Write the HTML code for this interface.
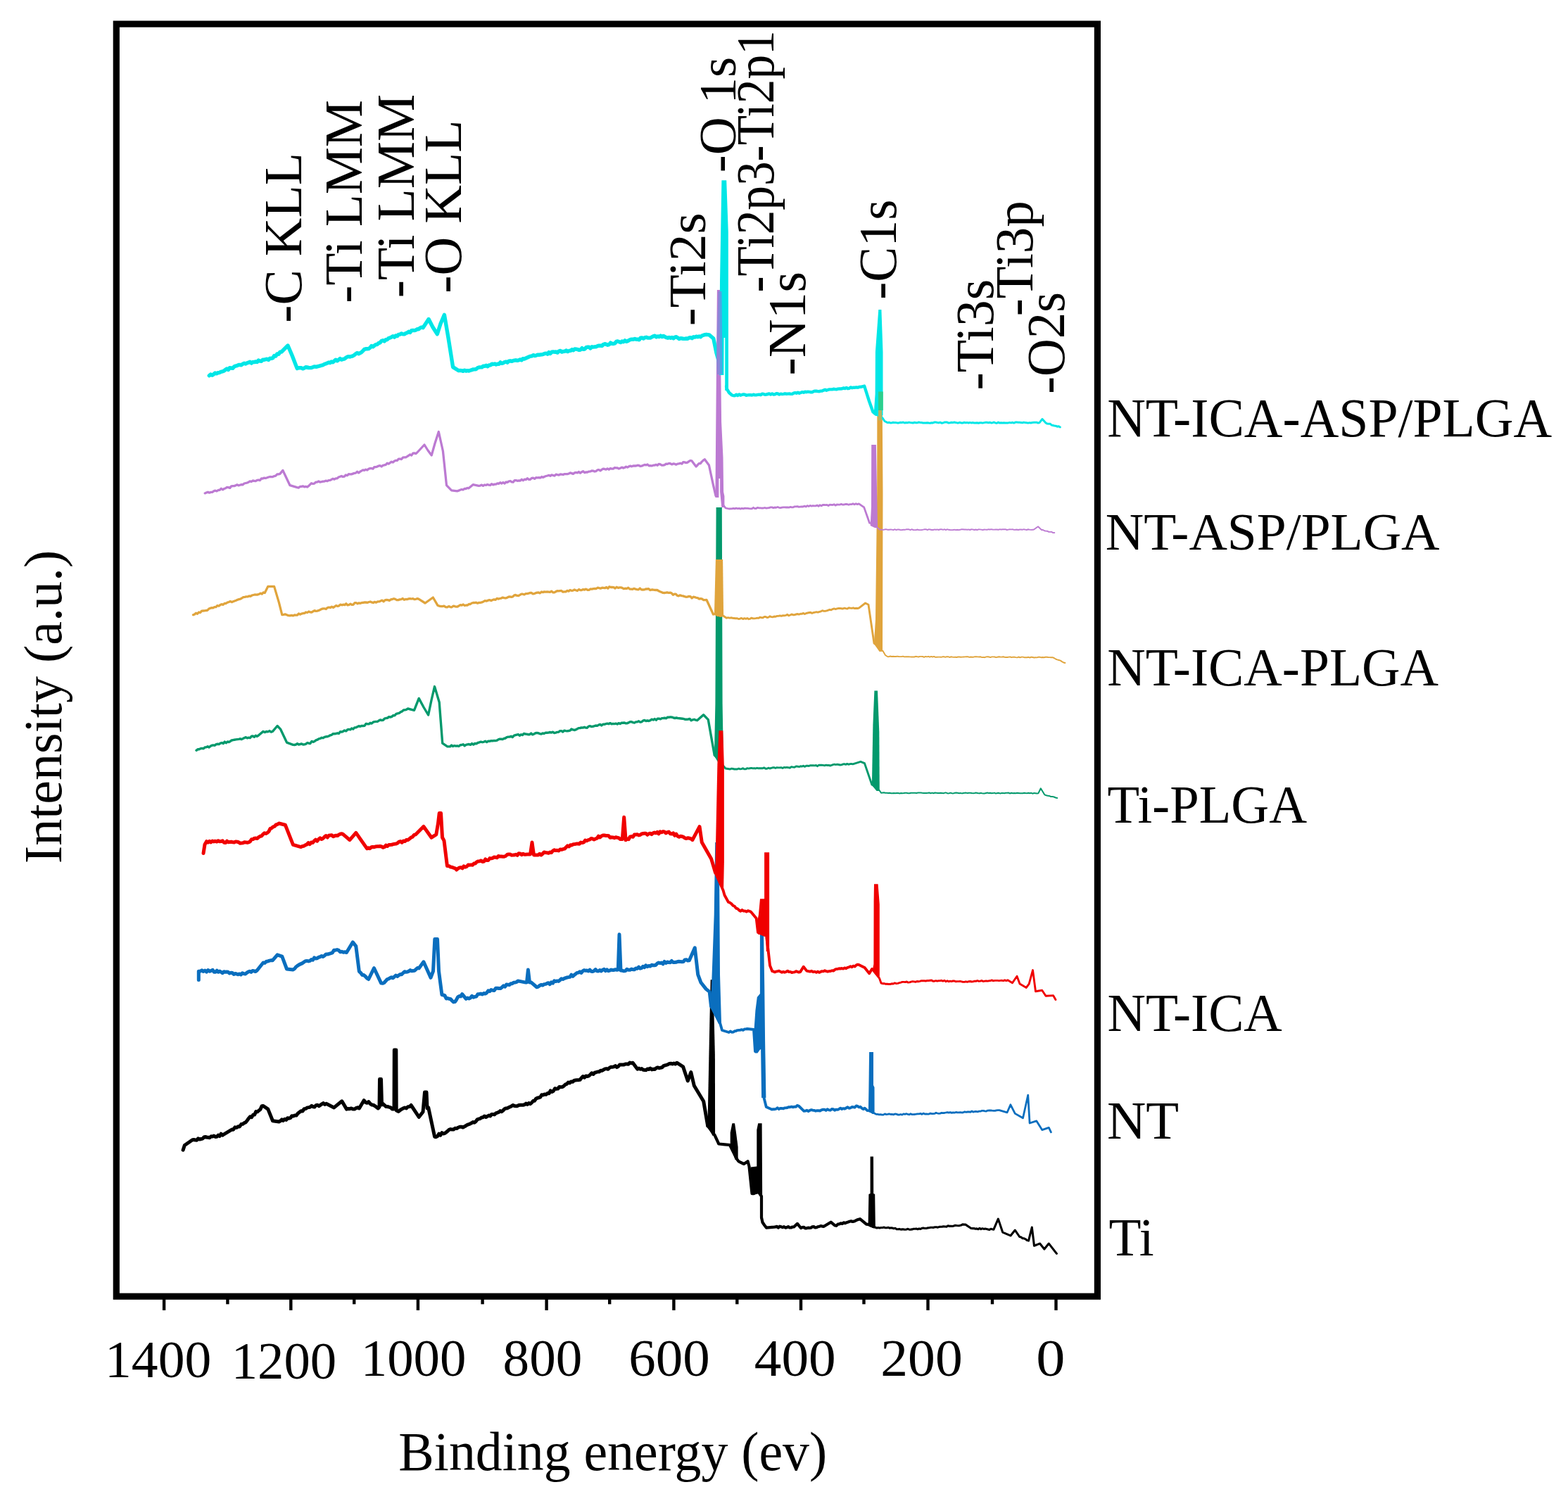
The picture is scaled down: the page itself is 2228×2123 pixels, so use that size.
<!DOCTYPE html>
<html><head><meta charset="utf-8"><title>XPS survey spectra</title>
<style>
html,body{margin:0;padding:0;background:#fff;width:2228px;height:2123px;overflow:hidden;}
svg{display:block;}
text{font-family:"Liberation Serif","Times New Roman",serif;fill:#000;}
</style></head><body>
<svg width="2228" height="2123" viewBox="0 0 2228 2123">
<rect width="2228" height="2123" fill="#fff"/>
<g id="curves">
<g><path d="M260.1,1634.2 L262.3,1627.5 L273.5,1619.7 L275.5,1619.5 L277.6,1620.1 L279.6,1620.2 L281.6,1617.8 L283.7,1619.0 L285.7,1618.5 L287.8,1618.1 L289.8,1616.0 L291.8,1615.4 L293.9,1616.2 L295.9,1616.3 L297.9,1616.7 L300.0,1614.7 L302.0,1615.1 L304.0,1614.1 L306.0,1615.4 L308.1,1615.3 L310.1,1613.1 L312.1,1614.6 L314.1,1611.2 L316.2,1613.2 L318.2,1611.8 L329.4,1605.1 L331.6,1605.2 L333.9,1601.8 L336.1,1602.4 L338.3,1600.8 L340.5,1601.0 L342.8,1597.5 L345.0,1597.3 L347.1,1595.6 L349.2,1594.8 L351.2,1592.2 L353.3,1589.3 L355.4,1586.7 L357.5,1587.7 L359.6,1584.3 L361.6,1584.1 L363.7,1579.6 L365.8,1579.9 L367.9,1578.0 L369.9,1576.5 L372.0,1571.8 L374.1,1571.5 L380.8,1576.1 L387.5,1592.8 L396.4,1594.0 L398.4,1592.8 L400.5,1590.9 L402.5,1592.4 L404.5,1590.3 L406.6,1591.4 L408.6,1588.7 L410.7,1589.2 L412.7,1588.6 L414.7,1585.8 L416.8,1586.0 L418.8,1585.0 L421.0,1585.1 L423.2,1582.3 L425.5,1580.4 L427.7,1578.7 L429.9,1579.0 L432.2,1575.7 L434.4,1575.6 L436.6,1573.9 L438.7,1573.6 L440.7,1573.2 L442.8,1571.4 L444.9,1572.7 L446.9,1573.1 L449.0,1570.7 L451.1,1570.3 L453.2,1571.8 L455.2,1570.3 L457.3,1568.9 L459.4,1567.6 L461.4,1569.5 L463.5,1568.3 L474.6,1573.9 L485.8,1564.8 L492.5,1576.1 L494.7,1575.5 L497.0,1575.7 L499.2,1575.0 L501.4,1576.0 L503.7,1576.1 L505.9,1574.7 L508.2,1573.8 L510.4,1575.0 L517.1,1563.7 L519.3,1566.4 L521.6,1567.3 L523.8,1565.6 L526.0,1568.4 L528.2,1569.9 L530.5,1570.2 L532.7,1571.6 L537.2,1575.0 L539.0,1573.0 L539.5,1533.5 L541.5,1533.5 L542.5,1570.0 L543.9,1568.3 L546.1,1570.3 L548.4,1572.4 L550.6,1572.5 L552.8,1573.2 L555.1,1573.8 L557.3,1576.1 L560.0,1576.0 L560.3,1492.0 L562.8,1492.0 L563.2,1578.0 L566.3,1579.4 L568.5,1577.5 L570.8,1576.1 L573.0,1574.8 L575.2,1574.0 L577.4,1574.9 L579.6,1572.8 L581.9,1572.6 L584.1,1570.5 L595.3,1587.3 L601.0,1580.0 L603.5,1552.0 L606.0,1552.0 L607.0,1575.0 L608.7,1573.9 L617.6,1615.2 L619.6,1615.7 L621.7,1614.5 L623.8,1611.2 L625.8,1613.2 L627.9,1609.7 L629.9,1611.0 L632.0,1610.4 L634.0,1609.0 L636.1,1607.3 L638.1,1605.4 L640.2,1604.6 L642.2,1605.1 L644.4,1605.0 L646.7,1603.2 L648.9,1603.6 L651.1,1602.2 L653.3,1601.3 L655.5,1601.2 L657.8,1602.1 L660.0,1600.8 L662.0,1599.7 L664.1,1598.4 L666.1,1597.7 L668.1,1596.9 L670.1,1595.8 L672.2,1594.5 L674.2,1595.2 L676.2,1593.5 L678.2,1590.8 L680.3,1590.0 L682.3,1589.6 L684.3,1587.9 L686.4,1587.7 L688.4,1586.0 L690.4,1587.5 L692.5,1586.3 L694.5,1585.1 L696.6,1585.9 L698.6,1583.4 L700.6,1583.5 L702.7,1583.9 L704.7,1581.8 L706.7,1581.1 L708.8,1580.3 L710.8,1578.6 L712.8,1579.7 L714.8,1578.0 L716.9,1575.7 L718.9,1574.9 L720.9,1574.7 L722.9,1573.6 L725.0,1572.7 L727.0,1571.7 L729.0,1570.5 L731.1,1571.5 L733.1,1571.8 L735.1,1571.7 L737.2,1570.5 L739.2,1570.3 L741.3,1570.3 L743.3,1570.2 L745.3,1569.8 L747.4,1568.1 L749.4,1569.5 L751.4,1567.5 L753.5,1568.6 L755.5,1566.9 L757.5,1564.5 L759.5,1564.2 L761.6,1561.3 L763.6,1560.2 L765.6,1559.8 L767.6,1559.2 L769.7,1555.8 L771.7,1556.1 L773.8,1555.0 L775.9,1555.4 L778.0,1553.5 L780.1,1553.8 L782.2,1549.9 L784.3,1551.5 L786.4,1550.3 L788.5,1546.7 L790.6,1547.4 L792.7,1547.1 L794.8,1544.4 L796.9,1544.8 L799.0,1544.5 L801.1,1543.3 L803.2,1541.2 L805.3,1540.4 L807.4,1538.1 L809.5,1538.9 L811.6,1536.9 L813.7,1537.2 L815.8,1535.5 L817.9,1534.9 L820.0,1534.7 L822.0,1534.7 L824.1,1534.4 L826.2,1531.7 L828.3,1529.6 L830.4,1531.2 L832.5,1529.0 L834.6,1529.5 L836.7,1528.9 L838.8,1527.0 L840.9,1524.8 L843.0,1526.4 L845.1,1524.2 L847.2,1523.7 L849.3,1523.0 L851.4,1523.0 L853.5,1521.3 L855.5,1521.4 L857.6,1520.1 L859.7,1518.9 L861.8,1518.6 L863.9,1519.3 L866.0,1517.4 L868.1,1516.3 L870.2,1516.2 L872.3,1515.9 L874.4,1514.5 L876.4,1516.6 L878.5,1515.5 L880.5,1513.0 L882.6,1513.0 L884.7,1513.1 L886.7,1512.9 L888.8,1512.0 L890.9,1512.0 L892.9,1512.3 L895.0,1510.0 L897.0,1510.8 L899.1,1510.2 L905.8,1519.2 L907.8,1518.1 L909.9,1519.3 L911.9,1518.6 L913.9,1520.2 L916.0,1520.4 L918.0,1520.7 L920.1,1518.9 L922.1,1519.6 L924.1,1518.1 L926.2,1519.9 L928.2,1519.2 L930.3,1519.5 L932.4,1517.8 L934.5,1516.9 L936.6,1517.8 L938.7,1517.2 L940.8,1516.8 L942.9,1514.6 L945.0,1513.9 L947.0,1513.3 L949.1,1512.6 L951.2,1511.4 L953.3,1511.2 L955.4,1511.9 L957.5,1511.1 L959.6,1512.0 L961.7,1510.2 L970.6,1515.9 L977.3,1536.0 L981.8,1523.6 L986.3,1542.7 L999.7,1565.0 L1005.7,1600.0" stroke="#000000" stroke-width="5.0" fill="none" stroke-linejoin="round" stroke-linecap="round"/><path d="M1005.7,1600.0 L1015.5,1613.0 L1021.3,1625.5 L1030.0,1626.3 L1037.0,1627.0 L1047.0,1647.0 L1049.5,1650.3 L1057.0,1654.0 L1062.6,1650.3 L1064.5,1657.5 L1068.5,1696.0 L1078.0,1694.0 L1082.0,1700.0 L1082.0,1730.0 L1083.5,1737.0 L1086.2,1741.0 L1088.9,1744.6 L1100.0,1743.7 L1102.0,1743.4 L1104.0,1742.9 L1106.0,1744.6 L1108.0,1742.7 L1110.0,1743.3 L1112.0,1744.2 L1114.0,1743.2 L1116.0,1744.6 L1118.0,1744.1 L1120.0,1743.1 L1122.0,1744.4 L1124.0,1744.5 L1126.0,1743.5 L1128.0,1743.5 L1133.0,1738.9 L1137.9,1745.0 L1139.9,1744.1 L1142.0,1743.8 L1144.0,1745.3 L1146.1,1745.3 L1148.1,1744.7 L1150.2,1744.8 L1152.2,1744.7 L1154.2,1743.3 L1156.3,1743.1 L1158.3,1744.4 L1160.4,1744.2 L1162.4,1743.2 L1164.5,1742.7 L1166.5,1742.1 L1168.6,1742.7 L1170.6,1742.8 L1180.6,1736.7 L1186.3,1741.4 L1188.4,1741.8 L1190.5,1739.7 L1192.6,1739.4 L1194.6,1738.3 L1196.7,1739.0 L1198.8,1737.3 L1200.9,1738.2 L1203.0,1737.2 L1205.1,1736.5 L1207.2,1735.7 L1209.3,1735.2 L1211.3,1736.0 L1213.4,1735.6 L1215.5,1734.7 L1217.6,1733.6 L1222.0,1732.2 L1231.0,1739.7 L1233.1,1739.8 L1235.2,1740.5 L1237.2,1741.5" stroke="#000000" stroke-width="4.2" fill="none" stroke-linejoin="round" stroke-linecap="round"/><path d="M1237.2,1741.5 L1239.3,1743.1 L1241.4,1743.9 L1243.5,1744.0 L1245.9,1745.0 L1247.9,1744.5 L1249.9,1745.0 L1251.9,1744.5 L1254.0,1744.5 L1256.0,1744.1 L1258.0,1744.7 L1260.0,1744.7 L1262.0,1744.2 L1264.0,1745.2 L1266.0,1744.8 L1268.0,1745.1 L1270.0,1745.7 L1272.0,1745.3 L1274.0,1746.7 L1276.0,1746.8 L1278.0,1746.4 L1280.0,1747.1 L1282.0,1746.9 L1284.0,1746.9 L1286.0,1747.3 L1288.0,1747.0 L1290.0,1746.3 L1292.0,1747.2 L1294.0,1747.1 L1296.0,1746.9 L1298.0,1746.3 L1300.0,1746.2 L1302.0,1746.0 L1304.0,1746.7 L1306.0,1745.9 L1308.0,1746.5 L1310.0,1745.3 L1312.0,1745.0 L1314.0,1745.5 L1316.0,1745.5 L1318.1,1744.9 L1320.1,1744.7 L1322.2,1744.2 L1324.3,1744.2 L1326.4,1744.4 L1328.4,1743.7 L1330.5,1743.8 L1332.6,1744.1 L1334.6,1743.4 L1336.7,1743.2 L1338.8,1743.1 L1340.8,1742.8 L1342.9,1743.0 L1345.0,1743.1 L1347.1,1741.8 L1349.1,1742.4 L1351.2,1742.2 L1353.3,1742.5 L1355.3,1742.0 L1357.4,1741.2 L1359.5,1741.5 L1361.5,1741.7 L1363.6,1741.6 L1365.7,1741.1 L1367.8,1739.9 L1369.8,1740.1 L1371.9,1740.1 L1379.9,1745.5 L1381.9,1745.6 L1383.9,1745.5 L1385.9,1746.2 L1387.9,1745.9 L1389.9,1746.7 L1391.9,1745.4 L1393.9,1746.6 L1395.9,1745.7 L1397.9,1746.4 L1399.9,1746.0 L1401.9,1746.4 L1403.9,1746.9 L1405.9,1747.5 L1407.9,1746.2 L1409.9,1746.8 L1411.9,1747.1 L1418.3,1732.1 L1424.7,1751.1 L1435.9,1755.9 L1442.3,1748.1 L1448.7,1757.5 L1450.8,1757.9 L1453.0,1759.7 L1455.1,1759.8 L1457.2,1760.8 L1459.4,1762.6 L1461.5,1763.1 L1466.3,1744.1 L1469.5,1770.3 L1477.5,1767.1 L1483.9,1775.0 L1490.3,1767.1 L1501.4,1781.4" stroke="#000000" stroke-width="3.1" fill="none" stroke-linejoin="round" stroke-linecap="round"/><polygon points="1005.4,1601.0 1008.4,1450.0 1009.7,1392.2 1013.4,1392.2 1015.9,1500.0 1016.1,1614.0 1012.6,1614.0" fill="#000000"/><polygon points="1037.7,1628.0 1037.7,1609.5 1040.4,1596.3 1044.0,1596.3 1045.9,1609.0 1048.6,1629.4 1048.6,1648.0 1044.6,1648.0" fill="#000000"/><polygon points="1066.7,1675.7 1066.7,1658.4 1075.3,1657.5 1075.3,1605.4 1077.2,1596.3 1082.6,1596.3 1083.1,1690.0 1083.1,1731.9 1080.4,1731.9 1080.4,1694.0 1071.4,1698.3 1068.4,1698.3" fill="#000000"/><polygon points="1233.6,1740.0 1234.4,1697.0 1236.6,1696.0 1236.6,1643.4 1241.0,1643.4 1241.2,1696.0 1243.2,1697.0 1243.9,1745.0 1240.1,1745.0" fill="#000000"/></g>
<g><path d="M282.3,1392.6 L282.3,1380.2 L284.5,1380.2 L286.8,1378.8 L289.0,1380.5 L291.2,1379.1 L293.5,1381.0 L295.7,1378.5 L298.0,1380.2 L300.2,1379.2 L302.2,1378.4 L304.2,1381.3 L306.2,1381.3 L308.2,1379.1 L310.2,1381.2 L312.2,1380.1 L314.2,1381.3 L316.2,1382.7 L318.2,1380.7 L320.2,1381.2 L322.2,1381.1 L324.2,1381.3 L326.2,1383.0 L328.2,1382.2 L330.2,1382.4 L332.2,1384.5 L334.2,1383.5 L336.2,1384.0 L338.2,1384.8 L340.3,1383.9 L342.3,1385.0 L344.4,1382.8 L346.4,1383.6 L348.5,1384.0 L350.6,1382.4 L352.6,1381.1 L354.7,1380.2 L356.8,1381.4 L358.8,1379.5 L360.9,1379.7 L362.9,1380.6 L365.0,1379.2 L374.0,1368.0 L376.2,1368.4 L378.5,1366.2 L380.7,1365.9 L382.9,1365.1 L385.2,1364.6 L387.4,1364.7 L394.1,1356.8 L400.8,1359.1 L407.5,1377.0 L416.4,1378.1 L418.6,1376.5 L420.9,1373.7 L423.1,1372.1 L425.4,1370.6 L427.6,1369.6 L429.9,1368.6 L432.1,1366.9 L434.2,1365.7 L436.2,1365.4 L438.3,1365.9 L440.4,1365.3 L442.5,1363.5 L444.5,1364.3 L446.6,1360.9 L448.7,1362.1 L450.7,1361.8 L452.8,1360.2 L454.9,1359.7 L457.0,1358.5 L459.0,1359.5 L461.1,1358.0 L463.3,1355.9 L465.6,1356.0 L467.8,1355.3 L470.1,1354.6 L472.3,1353.8 L474.6,1350.2 L476.8,1350.2 L479.0,1349.6 L481.3,1350.4 L483.5,1352.7 L485.7,1352.3 L487.9,1353.3 L490.2,1352.8 L492.4,1353.5 L501.3,1338.9 L505.8,1344.6 L510.3,1380.3 L512.5,1382.3 L514.8,1385.6 L517.0,1385.6 L519.2,1387.5 L521.5,1390.1 L523.7,1391.5 L531.5,1375.7 L541.6,1397.1 L543.7,1397.3 L545.8,1396.5 L547.8,1394.3 L549.9,1391.8 L552.0,1391.0 L554.1,1389.8 L556.2,1388.7 L558.2,1389.8 L560.3,1388.0 L562.4,1386.1 L564.5,1387.5 L566.6,1385.8 L568.6,1384.6 L570.7,1384.7 L572.8,1382.6 L574.8,1380.7 L576.9,1381.2 L578.9,1381.0 L580.9,1380.1 L583.0,1378.6 L585.0,1379.8 L587.1,1379.5 L589.1,1379.3 L591.1,1377.4 L593.2,1375.5 L595.2,1375.9 L601.9,1366.8 L612.0,1389.3 L615.5,1380.0 L617.8,1334.5 L621.5,1334.5 L623.5,1380.0 L627.9,1413.5 L630.0,1414.0 L632.0,1414.6 L634.1,1419.0 L636.1,1418.5 L638.2,1419.3 L640.3,1419.8 L642.3,1422.0 L644.4,1423.9 L646.5,1423.5 L648.5,1420.7 L650.5,1416.9 L652.6,1415.5 L654.7,1415.9 L656.7,1412.6 L662.2,1419.4 L664.3,1418.1 L666.4,1418.9 L668.5,1417.9 L670.6,1415.3 L672.7,1417.2 L674.8,1416.4 L676.9,1416.0 L679.0,1412.7 L681.1,1412.5 L683.2,1412.1 L685.3,1413.0 L687.4,1411.5 L689.5,1412.1 L691.6,1410.8 L693.7,1407.9 L695.8,1408.8 L697.9,1406.6 L700.0,1407.2 L702.2,1407.5 L704.5,1404.2 L706.8,1404.3 L709.0,1404.6 L711.2,1404.6 L713.5,1402.8 L715.5,1400.8 L717.6,1402.2 L719.6,1399.1 L721.6,1399.2 L723.7,1399.6 L725.7,1397.8 L727.8,1397.7 L729.8,1396.2 L731.8,1396.0 L733.9,1395.6 L735.9,1393.9 L747.0,1396.1 L748.5,1396.0 L750.4,1378.1 L752.5,1396.0 L754.9,1396.1 L762.7,1402.8 L764.8,1402.1 L766.8,1400.5 L768.9,1399.3 L771.0,1400.1 L773.1,1398.7 L775.1,1398.4 L777.2,1397.4 L779.3,1396.7 L781.3,1398.6 L783.4,1395.9 L785.5,1397.1 L787.6,1393.7 L789.6,1394.6 L791.7,1393.9 L793.7,1394.4 L795.7,1392.8 L797.7,1390.8 L799.8,1391.5 L801.8,1390.4 L803.8,1389.6 L805.8,1389.0 L807.8,1388.6 L809.8,1388.3 L811.9,1385.2 L813.9,1387.4 L815.9,1385.5 L817.9,1384.0 L819.9,1382.4 L821.9,1382.1 L823.9,1380.8 L826.0,1382.4 L828.0,1379.9 L830.0,1378.7 L832.0,1379.3 L834.0,1379.1 L836.1,1379.9 L838.1,1378.1 L840.1,1380.2 L842.1,1380.5 L844.2,1379.6 L846.2,1377.6 L848.2,1379.7 L850.2,1380.0 L852.3,1378.5 L854.3,1380.0 L856.3,1378.2 L858.4,1377.3 L860.4,1379.7 L862.4,1377.8 L864.4,1379.7 L866.5,1379.1 L868.5,1378.1 L870.5,1378.6 L872.5,1378.4 L874.6,1377.7 L876.6,1378.2 L878.3,1378.0 L880.0,1327.8 L882.0,1379.0 L884.5,1379.3 L886.6,1379.9 L888.7,1379.6 L890.8,1377.3 L892.9,1378.2 L895.1,1378.3 L897.2,1377.1 L899.3,1377.7 L901.4,1377.8 L903.5,1376.0 L905.5,1376.4 L907.6,1374.1 L909.6,1376.2 L911.6,1375.6 L913.7,1373.3 L915.7,1374.6 L917.7,1371.8 L919.8,1373.6 L921.8,1372.5 L923.8,1373.1 L925.9,1371.3 L927.9,1371.8 L929.9,1371.7 L931.9,1371.2 L934.0,1369.1 L936.0,1368.1 L938.0,1368.7 L940.1,1368.0 L942.1,1369.8 L944.1,1366.4 L946.2,1368.5 L948.2,1367.0 L950.3,1367.6 L952.4,1367.7 L954.4,1365.5 L956.5,1367.5 L958.6,1367.5 L960.7,1367.3 L962.8,1366.5 L964.8,1366.3 L966.9,1366.6 L969.0,1366.7 L971.1,1366.5 L973.2,1363.9 L975.2,1363.7 L977.3,1365.1 L979.4,1364.8 L987.3,1346.8 L991.7,1384.9 L996.0,1396.3 L1003.2,1405.4 L1008.2,1409.4 L1010.5,1430.0" stroke="#0A6EBE" stroke-width="5.0" fill="none" stroke-linejoin="round" stroke-linecap="round"/><path d="M1010.5,1430.0 L1023.5,1455.0 L1026.0,1464.0 L1035.7,1467.0 L1037.7,1465.5 L1039.7,1466.7 L1041.8,1466.6 L1043.8,1465.3 L1045.8,1465.1 L1047.8,1464.1 L1049.9,1463.9 L1051.9,1463.7 L1053.9,1463.1 L1055.9,1463.8 L1058.0,1462.4 L1060.0,1462.3 L1062.0,1462.0 L1071.0,1463.0 L1073.0,1494.0 L1077.0,1490.0 L1085.0,1488.0 L1085.5,1560.0 L1088.8,1573.0 L1096.7,1576.5 L1098.7,1576.1 L1100.7,1576.2 L1102.7,1575.8 L1104.7,1574.3 L1106.7,1576.1 L1108.7,1575.0 L1110.7,1574.9 L1112.7,1575.4 L1114.7,1574.4 L1116.8,1574.3 L1118.8,1574.1 L1120.8,1573.1 L1122.8,1573.2 L1124.8,1572.7 L1126.8,1573.3 L1128.8,1572.7 L1130.8,1572.9 L1132.8,1570.9 L1134.8,1571.5 L1142.4,1578.8 L1144.5,1578.6 L1146.6,1577.8 L1148.6,1579.2 L1150.7,1577.8 L1152.8,1577.2 L1154.9,1577.7 L1156.9,1577.9 L1159.0,1578.7 L1161.1,1578.1 L1163.2,1578.3 L1165.2,1578.5 L1167.3,1577.3 L1169.4,1576.6 L1171.5,1576.7 L1173.6,1577.9 L1175.6,1576.3 L1177.7,1577.3 L1179.8,1577.7 L1181.9,1576.0 L1183.9,1576.2 L1186.0,1577.7 L1188.1,1576.6 L1190.1,1576.9 L1192.2,1575.9 L1194.2,1574.7 L1196.2,1576.0 L1198.3,1575.1 L1200.3,1575.7 L1202.3,1574.5 L1204.4,1573.3 L1206.4,1574.8 L1208.4,1574.4 L1210.5,1573.0 L1212.5,1573.2 L1214.5,1573.7 L1216.6,1571.5 L1218.6,1572.0 L1220.6,1573.3 L1222.6,1572.8 L1224.7,1574.9 L1226.7,1576.1 L1228.7,1574.7 L1230.7,1576.6 L1232.4,1578.0" stroke="#0A6EBE" stroke-width="3.9" fill="none" stroke-linejoin="round" stroke-linecap="round"/><path d="M1232.4,1578.0 L1242.5,1582.0 L1245.0,1583.4 L1247.0,1583.3 L1249.1,1583.8 L1251.1,1583.6 L1253.2,1584.1 L1255.2,1584.1 L1257.3,1582.9 L1259.3,1583.6 L1261.4,1583.3 L1263.4,1582.8 L1265.5,1583.5 L1267.5,1583.4 L1269.5,1583.9 L1271.6,1583.0 L1273.6,1583.1 L1275.7,1584.0 L1277.7,1584.1 L1279.8,1583.5 L1281.8,1584.1 L1283.9,1582.9 L1285.9,1583.3 L1288.0,1582.7 L1290.0,1583.4 L1292.0,1583.9 L1294.0,1582.7 L1296.0,1583.7 L1298.0,1583.6 L1300.0,1583.5 L1302.0,1583.1 L1304.0,1582.8 L1306.0,1582.8 L1308.0,1582.3 L1310.0,1583.4 L1312.0,1582.1 L1314.0,1583.1 L1316.0,1582.8 L1318.0,1583.1 L1320.0,1583.0 L1322.0,1582.1 L1324.0,1582.7 L1326.0,1582.7 L1328.0,1582.4 L1330.0,1581.3 L1332.0,1582.0 L1334.0,1582.4 L1336.0,1582.1 L1338.0,1581.3 L1340.0,1581.6 L1342.0,1581.5 L1344.1,1581.0 L1346.1,1580.6 L1348.2,1581.1 L1350.2,1580.6 L1352.3,1581.4 L1354.3,1580.8 L1356.4,1581.1 L1358.4,1580.5 L1360.5,1580.9 L1362.5,1580.8 L1364.6,1580.6 L1366.6,1581.0 L1368.7,1580.8 L1370.7,1579.9 L1372.8,1580.3 L1374.8,1580.0 L1376.9,1579.8 L1378.9,1580.3 L1381.0,1579.0 L1383.0,1580.2 L1385.1,1579.5 L1387.1,1579.4 L1389.2,1579.8 L1391.2,1579.2 L1393.3,1579.2 L1395.3,1578.3 L1397.4,1578.4 L1399.4,1578.9 L1401.5,1579.1 L1403.5,1578.1 L1405.6,1578.0 L1407.6,1578.0 L1409.7,1578.2 L1411.7,1578.3 L1413.8,1578.4 L1415.8,1577.8 L1417.9,1577.6 L1419.9,1577.6 L1431.1,1580.8 L1435.9,1569.8 L1442.3,1582.4 L1453.5,1588.8 L1460.7,1556.2 L1463.1,1596.0 L1472.7,1592.8 L1480.7,1605.6 L1490.3,1602.4 L1493.4,1608.8" stroke="#0A6EBE" stroke-width="2.8" fill="none" stroke-linejoin="round" stroke-linecap="round"/><polygon points="1009.9,1432.0 1012.9,1350.0 1014.7,1300.0 1016.2,1197.0 1021.8,1197.0 1023.0,1385.0 1025.0,1454.0 1021.1,1455.0" fill="#0A6EBE"/><polygon points="1071.4,1465.0 1072.8,1496.5 1076.4,1496.5 1081.1,1490.0 1082.1,1560.0 1088.4,1560.0 1087.1,1480.0 1086.2,1400.0 1085.1,1327.5 1079.9,1327.5 1079.9,1412.0 1075.8,1417.0 1073.4,1436.0" fill="#0A6EBE"/><polygon points="1233.9,1578.0 1234.4,1550.0 1235.1,1495.0 1241.0,1495.0 1241.0,1542.0 1242.5,1545.0 1242.6,1583.0 1239.6,1583.0" fill="#0A6EBE"/></g>
<g><path d="M279.0,1066.3 L281.0,1064.8 L283.0,1064.7 L285.0,1063.7 L287.1,1063.3 L289.1,1063.8 L291.1,1061.9 L293.1,1061.7 L295.1,1060.8 L297.1,1062.0 L299.1,1060.3 L301.1,1059.2 L303.2,1058.9 L305.2,1059.3 L307.2,1057.6 L309.2,1057.3 L311.2,1057.6 L313.2,1056.2 L315.2,1055.5 L317.2,1056.6 L319.2,1054.1 L321.2,1055.7 L323.2,1053.9 L325.2,1054.5 L327.2,1053.4 L329.2,1052.0 L331.2,1051.6 L333.2,1051.2 L335.2,1050.9 L337.2,1050.6 L339.3,1050.4 L341.3,1049.8 L343.3,1050.6 L345.3,1049.6 L347.3,1048.5 L349.3,1047.7 L351.3,1048.8 L353.3,1048.1 L355.3,1048.6 L357.3,1046.3 L359.3,1046.0 L361.3,1047.3 L363.3,1045.3 L365.3,1046.4 L367.3,1045.0 L374.0,1039.4 L376.2,1040.6 L378.5,1039.5 L380.7,1039.9 L382.9,1038.6 L385.2,1040.2 L387.4,1039.4 L394.1,1031.5 L398.5,1036.1 L407.5,1055.1 L416.4,1058.4 L418.4,1058.5 L420.5,1058.0 L422.5,1056.7 L424.5,1058.0 L426.6,1057.5 L428.6,1056.9 L430.7,1058.0 L432.7,1057.9 L434.7,1057.2 L436.8,1055.5 L438.8,1056.2 L440.8,1056.5 L442.9,1053.4 L444.9,1054.3 L446.9,1053.5 L448.9,1051.9 L451.0,1051.2 L453.0,1049.9 L455.0,1049.4 L457.0,1048.3 L459.1,1048.7 L461.1,1047.3 L463.1,1046.8 L465.2,1046.7 L467.2,1046.0 L469.2,1044.8 L471.3,1044.3 L473.3,1042.6 L475.3,1042.7 L477.4,1042.5 L479.4,1041.8 L481.4,1042.4 L483.5,1039.8 L485.5,1040.1 L487.5,1039.3 L489.5,1038.0 L491.6,1038.9 L493.6,1037.0 L495.6,1036.4 L497.7,1036.9 L499.7,1035.1 L501.7,1036.1 L503.8,1033.9 L505.8,1033.9 L507.8,1032.7 L509.9,1031.7 L511.9,1032.3 L513.9,1031.4 L516.0,1031.5 L518.0,1031.4 L520.0,1028.4 L522.1,1028.7 L524.1,1028.9 L526.1,1027.3 L528.1,1028.1 L530.2,1026.2 L532.2,1025.6 L534.2,1025.4 L536.3,1025.4 L538.3,1024.1 L540.3,1023.0 L542.4,1023.5 L544.4,1023.2 L546.4,1021.2 L548.5,1020.5 L550.5,1020.4 L552.6,1018.6 L554.7,1019.0 L556.7,1018.4 L558.8,1016.6 L560.9,1016.7 L563.0,1014.4 L565.0,1013.9 L567.1,1013.4 L569.2,1011.8 L571.3,1010.9 L573.4,1009.0 L575.4,1008.9 L577.5,1008.3 L579.6,1007.0 L588.5,1009.3 L595.2,992.4 L602.0,1005.0 L608.6,1016.0 L613.0,995.0 L617.5,975.6 L624.2,998.1 L628.7,1056.2 L635.4,1060.7 L637.5,1060.9 L639.5,1060.9 L641.6,1059.1 L643.6,1060.5 L645.7,1059.7 L647.8,1060.2 L649.8,1059.8 L651.9,1060.5 L654.0,1058.8 L656.0,1058.5 L658.1,1057.8 L660.1,1059.7 L662.2,1058.4 L664.3,1057.9 L666.4,1057.5 L668.5,1058.4 L670.6,1056.6 L672.7,1058.0 L674.8,1056.5 L676.9,1056.8 L679.0,1055.5 L681.1,1054.9 L683.2,1054.2 L685.3,1054.7 L687.4,1054.3 L689.5,1053.3 L691.6,1054.6 L693.7,1053.1 L695.8,1053.3 L697.9,1052.7 L700.0,1052.8 L702.0,1052.4 L704.0,1052.6 L706.0,1052.2 L708.1,1050.9 L710.1,1050.2 L712.1,1050.2 L714.1,1050.5 L716.1,1049.5 L718.1,1049.0 L720.1,1047.6 L722.2,1047.1 L724.2,1047.1 L726.2,1046.2 L728.2,1047.6 L730.2,1045.4 L732.2,1044.7 L734.3,1044.1 L736.3,1043.6 L738.3,1045.3 L740.3,1043.8 L742.4,1044.5 L744.4,1042.4 L746.5,1043.0 L748.5,1043.2 L750.6,1043.8 L752.6,1043.7 L754.7,1042.1 L756.7,1043.9 L758.8,1043.0 L760.9,1041.8 L762.9,1041.5 L765.0,1041.7 L767.0,1042.6 L769.1,1043.0 L771.1,1042.0 L773.2,1042.4 L775.3,1041.1 L777.3,1041.2 L779.4,1041.1 L781.4,1040.5 L783.5,1041.0 L785.5,1040.2 L787.6,1041.5 L789.6,1041.1 L791.7,1040.4 L793.7,1040.3 L795.8,1038.6 L797.8,1038.6 L799.8,1040.0 L801.9,1038.1 L803.9,1038.6 L805.9,1038.9 L808.0,1038.5 L810.0,1038.1 L812.0,1036.0 L814.1,1036.8 L816.1,1037.5 L818.1,1036.9 L820.2,1035.8 L822.2,1034.6 L824.2,1034.5 L826.3,1034.0 L828.3,1034.1 L830.3,1033.3 L832.4,1034.1 L834.4,1034.2 L836.4,1032.1 L838.5,1031.7 L840.5,1032.6 L842.5,1032.3 L844.6,1031.7 L846.6,1031.0 L848.6,1031.4 L850.7,1030.1 L852.7,1029.4 L854.7,1030.9 L856.8,1029.2 L858.8,1029.3 L860.8,1028.7 L862.9,1028.2 L864.9,1028.7 L866.9,1027.6 L869.0,1028.7 L871.0,1028.4 L873.0,1028.6 L875.1,1028.2 L877.1,1029.0 L879.1,1027.6 L881.1,1028.6 L883.2,1027.3 L885.2,1027.2 L887.2,1027.0 L889.3,1027.9 L891.3,1027.7 L893.3,1026.9 L895.4,1025.6 L897.4,1025.7 L899.4,1026.6 L901.5,1027.1 L903.5,1025.9 L905.6,1025.7 L907.6,1024.8 L909.7,1026.2 L911.7,1025.8 L913.8,1024.1 L915.8,1023.4 L917.9,1024.5 L919.9,1024.0 L922.0,1024.5 L924.1,1023.7 L926.1,1022.2 L928.2,1023.0 L930.2,1021.6 L932.3,1023.3 L934.3,1021.1 L936.4,1021.2 L938.5,1021.9 L940.5,1020.6 L942.6,1020.5 L944.6,1020.2 L946.7,1020.8 L948.7,1019.1 L950.8,1019.2 L952.8,1018.9 L954.9,1019.2 L957.0,1020.0 L959.1,1020.5 L961.2,1020.0 L963.3,1020.6 L965.4,1020.8 L967.5,1021.0 L969.6,1021.2 L971.7,1021.7 L973.8,1022.3 L975.9,1022.2 L978.0,1022.0 L980.1,1021.5 L982.2,1023.8 L984.3,1022.8 L986.4,1022.3 L988.5,1023.2 L990.6,1023.7 L999.6,1015.7 L1006.3,1022.6 L1015.2,1073.0" stroke="#03996C" stroke-width="3.4" fill="none" stroke-linejoin="round" stroke-linecap="round"/><path d="M1015.2,1073.0 L1027.5,1088.0 L1031.0,1092.0 L1037.5,1093.0 L1039.5,1092.1 L1041.5,1092.5 L1043.5,1093.0 L1045.5,1093.0 L1047.6,1093.0 L1049.6,1092.2 L1051.6,1092.9 L1053.6,1092.6 L1055.6,1091.7 L1057.6,1092.9 L1059.6,1092.9 L1061.6,1091.7 L1063.7,1092.1 L1065.7,1091.7 L1067.7,1091.4 L1069.7,1091.9 L1071.7,1091.6 L1073.7,1092.0 L1075.7,1091.3 L1077.7,1091.8 L1079.8,1091.8 L1081.8,1091.7 L1083.8,1091.8 L1085.8,1090.9 L1087.8,1092.2 L1089.8,1092.2 L1091.8,1091.2 L1093.8,1092.0 L1095.9,1091.3 L1097.9,1090.8 L1099.9,1090.7 L1101.9,1091.5 L1103.9,1090.7 L1105.9,1090.9 L1107.9,1090.9 L1109.9,1090.6 L1112.0,1091.5 L1114.0,1090.4 L1116.0,1090.7 L1118.0,1090.4 L1120.0,1090.7 L1122.2,1091.2 L1124.5,1089.6 L1126.8,1090.1 L1129.0,1090.2 L1131.2,1088.9 L1133.5,1089.2 L1135.5,1089.7 L1137.5,1088.8 L1139.5,1089.1 L1141.5,1088.2 L1143.5,1089.4 L1145.5,1088.3 L1147.5,1088.3 L1149.5,1088.5 L1151.5,1087.7 L1153.6,1087.8 L1155.6,1087.6 L1157.6,1087.9 L1159.6,1087.5 L1161.6,1088.7 L1163.6,1087.2 L1165.6,1087.2 L1167.6,1087.3 L1169.6,1087.4 L1171.6,1087.8 L1173.6,1087.1 L1175.6,1087.5 L1177.6,1087.4 L1179.6,1088.0 L1181.6,1087.4 L1183.6,1086.6 L1185.6,1086.2 L1187.6,1086.6 L1189.6,1086.2 L1191.6,1086.5 L1193.7,1087.0 L1195.7,1086.9 L1197.7,1086.0 L1199.7,1085.6 L1201.7,1086.4 L1203.7,1085.4 L1205.7,1086.3 L1207.7,1085.6 L1209.7,1085.4 L1211.7,1085.8 L1222.9,1082.3 L1228.5,1084.7 L1238.9,1115.0" stroke="#03996C" stroke-width="2.9" fill="none" stroke-linejoin="round" stroke-linecap="round"/><path d="M1238.9,1115.0 L1249.5,1123.0 L1252.0,1126.8 L1254.0,1126.4 L1256.0,1126.3 L1258.0,1126.8 L1260.1,1126.8 L1262.1,1126.9 L1264.1,1126.7 L1266.1,1127.2 L1268.1,1127.2 L1270.1,1127.1 L1272.1,1127.3 L1274.1,1126.9 L1276.2,1127.0 L1278.2,1127.4 L1280.2,1127.1 L1282.2,1127.2 L1284.2,1127.1 L1286.2,1126.7 L1288.2,1126.8 L1290.2,1127.2 L1292.3,1127.3 L1294.3,1126.8 L1296.3,1126.8 L1298.3,1126.7 L1300.3,1126.7 L1302.3,1126.9 L1304.3,1126.6 L1306.3,1126.6 L1308.4,1126.5 L1310.4,1126.8 L1312.4,1127.0 L1314.4,1127.0 L1316.4,1127.1 L1318.4,1126.8 L1320.4,1126.4 L1322.4,1127.2 L1324.5,1126.6 L1326.5,1127.2 L1328.5,1126.5 L1330.5,1126.7 L1332.5,1126.9 L1334.5,1127.0 L1336.5,1126.8 L1338.5,1126.9 L1340.6,1127.2 L1342.6,1126.6 L1344.6,1126.6 L1346.6,1127.4 L1348.6,1127.2 L1350.6,1126.6 L1352.6,1127.2 L1354.6,1127.4 L1356.7,1126.8 L1358.7,1126.5 L1360.7,1126.8 L1362.7,1127.3 L1364.7,1126.9 L1366.7,1127.4 L1368.7,1127.1 L1370.7,1126.8 L1372.8,1126.6 L1374.8,1127.1 L1376.8,1126.7 L1378.8,1126.8 L1380.8,1127.1 L1382.8,1127.3 L1384.8,1127.0 L1386.8,1126.6 L1388.9,1126.9 L1390.9,1127.4 L1392.9,1127.0 L1394.9,1127.1 L1396.9,1127.6 L1398.9,1127.5 L1400.9,1127.0 L1402.9,1126.5 L1405.0,1127.1 L1407.0,1126.8 L1409.0,1127.3 L1411.0,1127.1 L1413.0,1126.6 L1415.0,1127.6 L1417.0,1127.0 L1419.0,1126.7 L1421.1,1127.6 L1423.1,1127.0 L1425.1,1126.9 L1427.1,1127.2 L1429.1,1126.7 L1431.1,1126.8 L1433.1,1126.6 L1435.1,1127.5 L1437.2,1126.8 L1439.2,1127.3 L1441.2,1127.0 L1443.2,1127.2 L1445.2,1126.8 L1447.2,1126.9 L1449.2,1127.3 L1451.2,1127.3 L1453.3,1127.3 L1455.3,1126.8 L1457.3,1127.1 L1459.3,1127.2 L1461.3,1126.7 L1463.3,1127.2 L1465.3,1126.8 L1467.3,1127.7 L1469.4,1126.9 L1471.4,1127.2 L1473.4,1127.6 L1475.4,1127.2 L1478.8,1120.3 L1484.4,1129.4 L1486.6,1130.2 L1488.9,1130.7 L1491.1,1131.1 L1493.3,1132.0 L1495.5,1132.1 L1497.8,1132.5 L1500.0,1133.6 L1502.2,1133.9" stroke="#03996C" stroke-width="2.0" fill="none" stroke-linejoin="round" stroke-linecap="round"/><polygon points="1014.9,1074.0 1016.4,1000.0 1017.6,721.0 1025.8,721.0 1026.6,1000.0 1028.1,1089.0 1023.6,1089.0" fill="#03996C"/><polygon points="1238.9,1116.0 1240.4,1030.0 1242.4,981.4 1247.0,981.4 1249.3,1040.0 1249.8,1124.0 1245.6,1124.0" fill="#03996C"/></g>
<g><path d="M289.0,1212.6 L291.0,1200.0 L293.5,1195.7 L295.6,1197.1 L297.6,1195.4 L299.7,1196.9 L301.8,1195.1 L303.9,1195.9 L305.9,1195.2 L308.0,1196.1 L310.1,1194.7 L312.1,1195.8 L314.2,1195.6 L316.3,1194.7 L318.3,1197.2 L320.4,1197.6 L322.5,1195.2 L324.6,1196.8 L326.6,1196.5 L328.7,1196.2 L330.8,1196.8 L332.8,1197.1 L334.9,1195.9 L337.0,1196.2 L339.0,1196.7 L341.1,1198.3 L343.2,1198.1 L345.3,1197.7 L347.3,1196.7 L349.4,1196.9 L351.4,1197.4 L353.5,1196.8 L355.5,1195.7 L357.5,1192.7 L359.5,1192.6 L361.6,1191.2 L363.6,1191.1 L365.6,1191.6 L367.6,1189.6 L369.7,1188.3 L371.7,1188.0 L373.8,1185.4 L375.8,1183.8 L377.9,1184.5 L379.9,1183.4 L381.9,1181.7 L384.0,1177.4 L386.1,1176.8 L388.1,1174.9 L390.1,1174.4 L392.2,1172.0 L394.2,1171.5 L396.3,1170.0 L405.3,1172.2 L416.4,1200.3 L427.6,1203.6 L429.7,1202.5 L431.8,1202.2 L433.9,1200.9 L436.0,1200.0 L438.1,1197.6 L440.2,1199.6 L442.3,1197.0 L444.4,1197.5 L446.4,1194.9 L448.5,1193.2 L450.6,1195.2 L452.7,1192.7 L454.8,1190.8 L456.9,1192.4 L459.0,1191.4 L461.1,1189.1 L463.2,1187.6 L465.2,1190.0 L467.3,1187.2 L469.3,1186.9 L471.4,1186.7 L473.5,1188.8 L475.5,1187.7 L477.6,1187.2 L479.7,1187.5 L481.7,1185.9 L483.8,1184.9 L485.8,1184.7 L487.9,1185.8 L496.9,1193.6 L505.8,1183.4 L521.5,1205.9 L523.6,1204.8 L525.6,1205.7 L527.7,1203.8 L529.8,1203.5 L531.9,1203.7 L533.9,1202.9 L536.0,1202.8 L538.1,1202.8 L540.1,1202.5 L542.2,1202.9 L544.3,1204.3 L546.4,1203.5 L548.4,1201.2 L550.5,1202.5 L552.6,1200.4 L554.6,1200.6 L556.7,1200.3 L558.7,1199.6 L560.8,1199.2 L562.9,1199.1 L564.9,1198.1 L567.0,1196.2 L569.1,1195.6 L571.1,1197.2 L573.2,1195.0 L575.2,1195.6 L577.3,1193.6 L579.5,1193.7 L581.8,1192.0 L584.0,1190.1 L586.2,1189.2 L588.5,1186.4 L590.7,1185.8 L601.9,1174.5 L613.1,1190.2 L619.8,1185.8 L622.5,1170.0 L624.2,1155.5 L626.5,1155.5 L628.5,1190.0 L631.0,1194.7 L635.4,1230.4 L637.6,1230.4 L639.9,1231.9 L642.1,1232.2 L644.3,1233.1 L646.6,1233.8 L648.8,1236.0 L650.8,1234.2 L652.9,1233.0 L654.9,1232.6 L657.0,1233.8 L659.0,1230.8 L661.1,1232.2 L663.1,1231.5 L665.2,1229.0 L667.2,1229.3 L669.3,1228.9 L671.4,1229.3 L673.4,1227.1 L675.4,1226.9 L677.5,1224.7 L679.5,1223.9 L681.6,1223.7 L683.6,1222.9 L685.7,1224.5 L687.7,1224.0 L689.8,1221.0 L691.8,1222.6 L693.9,1222.4 L695.9,1219.6 L698.0,1219.9 L700.0,1219.3 L702.1,1218.0 L704.1,1218.2 L706.2,1218.8 L708.2,1216.5 L710.3,1217.1 L712.4,1217.0 L714.4,1217.3 L716.5,1217.2 L718.5,1216.5 L720.6,1214.5 L722.6,1213.9 L724.7,1213.9 L726.8,1215.2 L728.8,1215.1 L730.9,1214.9 L732.9,1214.3 L735.0,1215.4 L737.0,1212.7 L739.0,1212.9 L741.1,1214.7 L743.1,1213.2 L745.2,1214.3 L747.2,1214.2 L749.3,1213.9 L753.5,1214.0 L756.0,1197.0 L758.5,1215.0 L762.7,1215.0 L764.8,1214.9 L766.8,1213.3 L768.9,1215.0 L771.0,1213.3 L773.1,1211.0 L775.1,1211.5 L777.2,1211.7 L779.3,1212.3 L781.3,1211.0 L783.4,1211.6 L785.5,1209.2 L787.6,1207.8 L789.6,1208.6 L791.7,1208.3 L793.8,1208.9 L795.9,1207.0 L798.0,1207.3 L800.1,1206.6 L802.2,1206.1 L804.3,1204.1 L806.4,1201.9 L808.5,1202.9 L810.6,1200.7 L812.7,1200.9 L814.8,1199.7 L816.9,1199.5 L819.0,1199.1 L821.1,1199.1 L823.2,1199.3 L825.3,1197.1 L827.4,1197.6 L829.5,1196.9 L831.6,1194.1 L833.7,1194.8 L835.8,1193.6 L837.9,1193.1 L840.0,1191.4 L842.0,1191.9 L844.1,1192.9 L846.2,1192.0 L848.3,1191.2 L850.4,1188.2 L852.5,1190.0 L854.6,1188.0 L856.7,1187.1 L858.8,1187.0 L860.8,1187.5 L862.9,1187.4 L864.9,1187.7 L866.9,1190.3 L868.9,1189.8 L871.0,1189.9 L873.0,1190.7 L875.0,1189.7 L877.0,1190.3 L879.1,1190.6 L881.1,1192.6 L884.3,1192.6 L886.7,1161.2 L889.1,1193.7 L891.2,1192.1 L893.2,1192.7 L895.3,1188.9 L897.3,1188.6 L899.4,1189.3 L901.4,1186.0 L903.5,1185.9 L905.5,1185.8 L907.6,1186.9 L909.6,1186.3 L911.6,1185.0 L913.7,1184.5 L915.7,1184.3 L917.7,1184.3 L919.8,1186.3 L921.8,1184.8 L923.8,1184.2 L925.9,1185.6 L927.9,1183.8 L929.9,1183.1 L931.9,1183.8 L934.0,1182.4 L936.0,1184.9 L938.0,1181.8 L940.1,1182.8 L942.1,1181.6 L944.1,1182.0 L946.2,1183.9 L948.2,1182.6 L950.3,1182.1 L952.4,1184.8 L954.5,1185.1 L956.6,1183.8 L958.7,1187.3 L960.8,1185.1 L962.9,1188.2 L965.0,1189.3 L967.1,1188.2 L969.2,1188.7 L971.3,1189.4 L973.4,1191.0 L975.5,1191.5 L977.6,1190.7 L979.7,1191.2 L981.8,1191.9 L983.9,1193.7 L994.0,1174.6 L997.3,1197.1 L1010.7,1220.6 L1016.5,1240.0" stroke="#F00000" stroke-width="5.0" fill="none" stroke-linejoin="round" stroke-linecap="round"/><path d="M1016.5,1240.0 L1027.5,1265.0 L1029.5,1272.0 L1035.0,1282.0 L1037.2,1282.7 L1039.4,1284.4 L1041.6,1286.9 L1043.7,1287.7 L1045.9,1290.6 L1048.1,1291.4 L1050.3,1293.5 L1052.4,1294.8 L1054.5,1293.1 L1056.6,1294.6 L1058.7,1294.5 L1060.7,1295.5 L1062.8,1294.2 L1064.9,1294.8 L1067.0,1295.8 L1074.7,1305.0 L1077.0,1325.0 L1089.0,1330.0 L1091.5,1350.0 L1094.0,1372.0 L1097.2,1380.0 L1099.0,1380.4 L1101.0,1381.4 L1103.0,1380.4 L1105.0,1380.2 L1107.0,1379.6 L1109.0,1380.8 L1111.0,1381.7 L1113.0,1380.9 L1115.0,1381.7 L1117.0,1381.0 L1119.1,1379.7 L1121.1,1381.1 L1123.1,1381.0 L1125.1,1382.0 L1127.1,1381.6 L1129.1,1381.4 L1131.1,1380.2 L1133.1,1380.9 L1135.1,1381.6 L1137.1,1381.1 L1141.7,1373.7 L1146.3,1379.6 L1148.6,1380.1 L1150.9,1380.6 L1153.2,1379.8 L1155.4,1381.2 L1157.7,1380.6 L1160.0,1381.9 L1162.0,1380.6 L1164.0,1381.9 L1166.0,1380.9 L1168.0,1380.1 L1170.0,1380.4 L1172.0,1379.3 L1174.0,1380.2 L1176.0,1380.7 L1178.0,1380.1 L1180.1,1380.0 L1182.1,1379.2 L1184.1,1379.6 L1186.1,1378.1 L1188.1,1377.1 L1190.1,1377.0 L1192.1,1376.3 L1194.1,1376.5 L1196.1,1376.0 L1198.1,1376.6 L1200.2,1375.4 L1202.2,1376.2 L1204.3,1374.8 L1206.4,1374.3 L1208.5,1373.3 L1210.5,1374.3 L1212.6,1372.6 L1214.7,1373.5 L1216.8,1371.3 L1218.8,1370.6 L1220.9,1371.2 L1228.6,1375.0 L1235.2,1383.3 L1239.0,1377.0" stroke="#F00000" stroke-width="3.9" fill="none" stroke-linejoin="round" stroke-linecap="round"/><path d="M1239.0,1377.0 L1249.5,1390.0 L1252.0,1397.0 L1254.2,1397.7 L1256.3,1397.5 L1258.5,1398.3 L1260.7,1398.3 L1262.8,1398.5 L1265.0,1398.5 L1267.1,1397.8 L1269.3,1398.0 L1271.4,1396.9 L1273.6,1397.7 L1275.7,1397.3 L1277.9,1396.6 L1280.0,1396.1 L1282.1,1395.4 L1284.2,1395.4 L1286.3,1395.6 L1288.3,1395.0 L1290.4,1396.1 L1292.5,1395.9 L1294.6,1395.1 L1296.7,1394.6 L1298.8,1394.9 L1300.8,1395.4 L1302.9,1394.5 L1305.0,1394.8 L1307.1,1394.3 L1309.2,1393.7 L1311.3,1393.8 L1313.3,1393.8 L1315.4,1394.0 L1317.5,1393.5 L1319.6,1393.5 L1321.6,1393.2 L1323.7,1393.0 L1325.7,1394.3 L1327.7,1394.2 L1329.8,1393.6 L1331.8,1394.2 L1333.8,1393.7 L1335.8,1393.6 L1337.9,1393.3 L1339.9,1394.2 L1341.9,1393.3 L1344.0,1394.7 L1346.0,1393.7 L1348.0,1394.8 L1350.1,1394.1 L1352.1,1394.6 L1354.1,1393.9 L1356.2,1394.0 L1358.2,1394.8 L1360.2,1394.6 L1362.2,1394.6 L1364.3,1394.4 L1366.3,1394.8 L1368.3,1395.4 L1370.4,1395.4 L1372.4,1394.8 L1374.5,1395.3 L1376.5,1394.7 L1378.6,1394.5 L1380.6,1395.0 L1382.7,1394.9 L1384.7,1394.2 L1386.8,1394.3 L1388.8,1393.5 L1390.9,1394.4 L1392.9,1394.1 L1395.0,1393.5 L1397.0,1394.6 L1399.1,1394.2 L1401.1,1393.8 L1403.2,1394.2 L1405.2,1393.8 L1407.3,1393.6 L1409.3,1392.9 L1411.4,1393.8 L1413.4,1393.4 L1415.5,1393.4 L1417.5,1393.4 L1419.6,1393.6 L1421.6,1393.4 L1423.7,1393.3 L1425.7,1393.7 L1427.8,1392.8 L1429.8,1393.6 L1431.9,1392.8 L1438.5,1396.8 L1445.0,1387.2 L1449.0,1398.1 L1458.3,1403.4 L1462.2,1398.1 L1467.5,1378.6 L1471.5,1408.7 L1480.7,1407.3 L1486.0,1415.3 L1496.6,1414.6 L1499.9,1420.5" stroke="#F00000" stroke-width="2.9" fill="none" stroke-linejoin="round" stroke-linecap="round"/><polygon points="1016.2,1240.0 1019.4,1086.0 1021.4,1038.3 1027.3,1038.3 1028.9,1090.0 1028.9,1224.0 1028.1,1262.0 1025.6,1262.0" fill="#F00000"/><polygon points="1076.3,1308.0 1077.4,1328.0 1088.1,1328.0 1088.8,1352.0 1093.1,1352.0 1093.1,1211.2 1086.1,1211.2 1086.1,1277.3 1080.0,1277.3 1077.9,1300.0" fill="#F00000"/><polygon points="1239.9,1378.0 1241.4,1370.0 1241.6,1281.0 1242.0,1256.2 1247.6,1256.2 1249.8,1285.0 1249.8,1388.0 1246.3,1386.0" fill="#F00000"/></g>
<g><path d="M274.5,873.7 L276.5,873.0 L278.5,871.1 L280.5,872.2 L282.6,870.0 L284.6,870.5 L286.6,868.1 L288.6,868.0 L290.6,867.9 L292.6,867.5 L294.6,867.3 L296.6,865.3 L298.7,864.3 L300.7,863.7 L302.7,863.9 L304.7,862.6 L306.8,862.7 L308.8,860.5 L310.8,861.2 L312.9,859.6 L314.9,858.7 L317.0,859.3 L319.1,857.4 L321.1,857.5 L323.1,856.1 L325.2,855.5 L327.2,854.6 L329.3,855.6 L331.3,854.8 L333.4,854.0 L335.4,853.2 L337.5,852.3 L339.5,851.6 L341.6,851.2 L343.6,850.0 L345.7,848.6 L347.8,848.3 L349.8,847.8 L351.8,847.9 L353.9,846.9 L355.9,847.3 L358.0,846.0 L360.0,845.5 L362.0,845.0 L364.0,845.1 L366.1,845.0 L368.1,844.2 L370.1,843.1 L372.1,844.1 L374.2,841.8 L376.2,842.5 L380.7,833.4 L389.6,833.4 L396.3,855.9 L400.8,873.7 L403.0,873.4 L405.3,872.9 L407.5,873.7 L409.7,874.7 L411.9,874.9 L414.2,874.3 L416.4,874.9 L418.4,874.0 L420.5,874.2 L422.5,874.0 L424.5,872.0 L426.6,873.1 L428.6,872.1 L430.6,871.5 L432.7,871.3 L434.7,870.0 L436.7,870.5 L438.8,869.0 L440.8,869.9 L442.8,870.0 L444.8,868.8 L446.9,867.7 L448.9,868.3 L450.9,868.1 L453.0,867.4 L455.0,866.5 L457.0,865.3 L459.1,864.8 L461.1,864.8 L463.2,865.5 L465.2,863.6 L467.3,863.0 L469.3,863.5 L471.4,862.2 L473.5,863.3 L475.5,862.0 L477.6,860.5 L479.7,861.4 L481.7,860.8 L483.8,859.1 L485.8,859.8 L487.9,859.2 L489.9,859.7 L491.9,857.8 L493.9,859.9 L496.0,859.4 L498.0,858.1 L500.0,859.4 L502.0,859.1 L504.0,856.7 L506.0,856.6 L508.1,857.8 L510.1,856.8 L512.1,857.3 L514.1,856.5 L516.1,856.4 L518.1,855.8 L520.1,856.0 L522.2,856.3 L524.2,855.5 L526.2,855.0 L528.2,855.9 L530.3,856.5 L532.4,855.3 L534.5,856.2 L536.6,854.9 L538.7,854.9 L540.8,854.0 L542.9,853.1 L545.0,854.8 L547.0,852.8 L549.1,852.3 L551.2,852.7 L553.3,853.3 L555.4,851.8 L557.5,851.5 L559.6,850.7 L561.7,851.4 L563.8,852.6 L565.9,852.6 L568.0,851.9 L570.1,851.6 L572.2,850.5 L574.3,852.3 L576.4,851.5 L578.5,851.7 L580.5,850.9 L582.6,850.6 L584.7,851.0 L586.8,850.6 L588.9,851.7 L591.0,851.3 L593.1,850.6 L595.2,851.4 L604.1,857.0 L615.3,849.0 L622.0,860.3 L624.2,861.2 L626.5,861.7 L628.7,861.6 L631.0,861.1 L633.2,862.6 L635.4,862.8 L637.7,861.6 L639.9,862.6 L641.9,862.8 L644.0,861.2 L646.0,861.5 L648.0,862.2 L650.1,862.0 L652.1,860.8 L654.1,859.6 L656.2,860.1 L658.2,859.0 L660.2,860.5 L662.2,860.0 L664.3,860.1 L666.3,858.4 L668.3,858.5 L670.4,857.0 L672.4,856.5 L674.4,856.5 L676.5,856.1 L678.5,857.2 L680.5,856.4 L682.6,856.3 L684.6,855.9 L686.8,854.9 L689.0,853.7 L691.2,854.1 L693.4,853.2 L695.6,852.6 L697.8,853.6 L700.0,852.5 L702.0,851.8 L704.1,852.3 L706.1,850.3 L708.2,851.1 L710.2,850.5 L712.3,850.1 L714.3,849.1 L716.3,849.6 L718.4,850.0 L720.4,849.4 L722.5,848.2 L724.5,847.9 L726.6,848.4 L728.6,847.9 L730.7,845.8 L732.7,845.5 L734.7,846.4 L736.8,846.5 L738.8,845.4 L740.9,844.1 L742.9,844.2 L745.0,844.9 L747.0,843.6 L749.0,843.6 L751.1,843.1 L753.1,842.5 L755.1,842.4 L757.2,843.8 L759.2,843.6 L761.2,842.7 L763.3,842.1 L765.3,842.0 L767.3,842.9 L769.4,841.0 L771.4,841.6 L773.4,840.9 L775.5,841.1 L777.5,841.0 L779.5,841.2 L781.6,841.4 L783.6,840.1 L785.6,841.8 L787.7,841.9 L789.7,840.8 L791.7,839.7 L793.8,839.9 L795.8,839.7 L797.8,839.5 L799.9,841.1 L801.9,840.9 L803.9,840.8 L806.0,839.3 L808.0,840.2 L810.0,838.5 L812.1,839.3 L814.1,839.1 L816.2,838.0 L818.2,838.8 L820.3,839.5 L822.4,837.6 L824.5,838.6 L826.5,838.5 L828.6,837.6 L830.7,838.1 L832.7,837.1 L834.8,838.3 L836.9,838.4 L838.9,837.0 L841.0,837.1 L843.1,836.6 L845.2,836.3 L847.2,836.5 L849.3,835.1 L851.4,835.7 L853.4,836.2 L855.5,835.1 L857.6,835.3 L859.6,835.7 L861.7,834.5 L863.8,836.1 L865.9,833.7 L867.9,834.5 L870.0,834.5 L872.1,834.7 L874.1,836.0 L876.2,834.3 L878.3,835.4 L880.3,834.9 L882.4,834.8 L884.5,835.6 L886.5,836.7 L888.6,836.2 L890.7,836.4 L892.7,835.1 L894.8,837.1 L896.9,837.1 L898.9,837.3 L901.0,836.3 L903.1,837.2 L905.1,837.6 L907.2,837.9 L909.3,836.0 L911.3,837.9 L913.4,838.0 L915.5,837.9 L917.5,837.0 L919.6,837.0 L921.7,836.7 L923.7,838.6 L925.8,838.0 L927.8,838.0 L929.9,838.4 L931.9,838.5 L933.9,838.5 L936.0,839.7 L938.0,840.7 L940.0,841.5 L942.1,842.4 L944.1,842.5 L946.1,842.2 L948.1,841.8 L950.2,842.5 L952.2,842.1 L954.2,842.8 L956.3,845.2 L958.3,844.2 L960.3,844.1 L962.4,846.3 L964.4,846.8 L966.4,845.8 L968.5,846.6 L970.5,846.9 L972.6,847.6 L974.7,848.3 L976.8,848.2 L978.9,847.4 L981.0,847.6 L983.1,849.9 L985.2,848.2 L987.2,848.6 L989.3,849.3 L991.4,849.7 L993.5,851.1 L995.6,850.6 L997.7,851.1 L999.8,852.7 L1001.9,852.7 L1004.0,852.5 L1013.5,873.0 L1015.5,872.4 L1017.5,872.4 L1019.5,874.4" stroke="#E0A43C" stroke-width="3.3" fill="none" stroke-linejoin="round" stroke-linecap="round"/><path d="M1019.5,874.4 L1021.5,874.4 L1023.5,873.9 L1025.5,874.1 L1027.5,875.0 L1032.4,878.2 L1034.5,877.7 L1036.6,878.2 L1038.7,877.8 L1040.9,878.2 L1043.0,878.5 L1045.1,878.8 L1047.2,878.7 L1049.3,879.5 L1051.4,879.2 L1053.6,878.4 L1055.7,879.6 L1057.8,878.6 L1059.9,879.3 L1061.9,878.5 L1063.9,879.7 L1065.9,879.3 L1067.9,878.1 L1069.9,878.9 L1071.9,878.9 L1073.9,878.6 L1075.9,878.2 L1077.9,878.4 L1080.0,877.1 L1082.0,877.7 L1084.0,877.7 L1086.0,876.5 L1088.0,876.5 L1090.0,877.6 L1092.0,877.1 L1094.0,875.7 L1096.0,876.6 L1098.0,876.9 L1100.0,876.0 L1102.1,876.3 L1104.1,875.4 L1106.2,875.4 L1108.3,874.8 L1110.4,875.4 L1112.4,874.6 L1114.5,874.8 L1116.6,874.4 L1118.6,873.3 L1120.7,874.8 L1122.8,874.0 L1124.8,872.9 L1126.9,873.7 L1129.0,873.7 L1131.1,873.0 L1133.1,872.5 L1135.2,873.1 L1137.3,872.3 L1139.3,872.3 L1141.4,871.4 L1143.5,872.5 L1145.5,871.5 L1147.6,871.0 L1149.7,870.5 L1151.8,870.2 L1153.8,871.4 L1155.9,870.5 L1158.0,870.1 L1160.1,869.7 L1162.2,870.1 L1164.3,869.4 L1166.4,868.8 L1168.5,867.7 L1170.6,868.4 L1172.7,868.2 L1174.7,867.9 L1176.8,867.2 L1178.9,866.3 L1181.0,866.8 L1183.1,865.6 L1185.2,864.9 L1187.3,865.6 L1189.4,864.9 L1191.5,864.5 L1193.6,864.4 L1195.7,864.7 L1197.7,865.0 L1199.8,864.1 L1201.9,864.6 L1204.0,865.0 L1206.1,863.8 L1208.2,864.1 L1210.3,864.4 L1212.4,863.8 L1214.4,864.6 L1216.5,864.3 L1218.6,864.5 L1220.7,863.8 L1229.6,857.0 L1234.0,859.3 L1242.0,914.0 L1244.1,915.5 L1246.2,917.5 L1248.2,919.3" stroke="#E0A43C" stroke-width="2.9" fill="none" stroke-linejoin="round" stroke-linecap="round"/><path d="M1248.2,919.3 L1250.3,921.5 L1252.4,923.5 L1254.5,925.0 L1258.0,931.0 L1261.0,933.0 L1263.0,933.2 L1265.0,932.5 L1267.0,933.0 L1269.0,932.8 L1271.0,933.0 L1273.0,933.0 L1275.0,932.6 L1277.0,933.0 L1279.0,933.1 L1281.0,933.1 L1283.0,932.6 L1285.1,933.4 L1287.1,933.1 L1289.1,933.2 L1291.1,933.3 L1293.1,933.4 L1295.1,933.5 L1297.1,933.5 L1299.1,933.5 L1301.1,932.8 L1303.1,933.1 L1305.1,933.5 L1307.1,932.9 L1309.1,932.9 L1311.1,933.0 L1313.1,933.8 L1315.1,932.9 L1317.1,933.4 L1319.1,932.8 L1321.1,933.7 L1323.1,932.9 L1325.1,933.5 L1327.1,932.9 L1329.1,933.9 L1331.1,933.7 L1333.2,933.6 L1335.2,933.6 L1337.2,933.8 L1339.2,933.3 L1341.2,933.2 L1343.2,933.9 L1345.2,933.2 L1347.2,933.1 L1349.2,934.0 L1351.2,933.3 L1353.2,933.6 L1355.2,933.9 L1357.2,933.8 L1359.2,934.0 L1361.2,933.5 L1363.2,933.5 L1365.2,933.8 L1367.2,933.6 L1369.2,933.5 L1371.2,933.4 L1373.2,933.1 L1375.2,933.2 L1377.2,933.9 L1379.3,933.5 L1381.3,933.7 L1383.3,933.7 L1385.3,933.2 L1387.3,933.3 L1389.3,933.4 L1391.3,933.5 L1393.3,933.3 L1395.3,934.1 L1397.3,933.9 L1399.3,934.2 L1401.3,933.4 L1403.3,933.3 L1405.3,933.5 L1407.3,934.1 L1409.3,933.4 L1411.3,933.4 L1413.3,933.5 L1415.3,934.2 L1417.3,933.7 L1419.3,933.3 L1421.3,933.5 L1423.3,933.6 L1425.4,933.3 L1427.4,933.7 L1429.4,934.0 L1431.4,934.0 L1433.4,933.6 L1435.4,933.5 L1437.4,934.2 L1439.4,933.7 L1441.4,933.6 L1443.4,934.1 L1445.4,934.4 L1447.4,933.5 L1449.4,934.3 L1451.4,933.6 L1453.4,933.6 L1455.4,934.2 L1457.4,934.3 L1459.4,934.2 L1461.4,933.8 L1463.4,934.5 L1465.4,933.7 L1467.4,934.0 L1469.4,934.5 L1471.4,934.2 L1473.5,934.4 L1475.5,933.6 L1477.5,933.7 L1479.5,934.3 L1481.5,934.0 L1483.5,934.2 L1485.5,933.8 L1487.5,933.8 L1489.5,934.0 L1491.5,934.1 L1493.5,934.2 L1495.5,934.2 L1497.7,935.0 L1500.0,936.5 L1502.2,937.4 L1504.5,938.0 L1506.7,938.6 L1508.9,940.1 L1511.2,941.5 L1513.4,942.0" stroke="#E0A43C" stroke-width="1.9" fill="none" stroke-linejoin="round" stroke-linecap="round"/><polygon points="1014.9,874.0 1016.9,795.0 1027.1,795.0 1028.1,876.0 1023.6,877.0" fill="#E0A43C"/><polygon points="1241.9,915.0 1244.0,880.0 1246.2,700.0 1246.4,560.0 1253.6,560.0 1254.5,700.0 1254.0,925.8 1249.6,926.0" fill="#E0A43C"/></g>
<g><path d="M291.2,700.9 L293.3,700.0 L295.4,699.2 L297.5,700.2 L299.6,699.4 L301.7,699.4 L303.8,697.8 L305.9,697.2 L308.0,697.9 L310.1,696.5 L312.2,696.3 L314.3,694.2 L316.4,695.8 L318.5,694.5 L320.6,693.8 L322.6,692.3 L324.7,692.6 L326.7,693.4 L328.7,690.9 L330.8,690.6 L332.8,690.6 L334.8,689.9 L336.9,688.8 L338.9,689.9 L340.9,689.2 L343.0,688.5 L345.0,688.8 L347.0,687.0 L349.1,686.5 L351.1,686.1 L353.1,685.2 L355.1,683.9 L357.2,684.4 L359.2,683.0 L361.2,683.3 L363.3,683.6 L365.3,682.4 L367.3,682.0 L369.4,682.6 L371.4,679.9 L373.4,680.1 L375.5,679.1 L377.5,679.5 L379.5,678.8 L381.6,678.0 L383.6,677.5 L385.6,677.6 L387.6,677.5 L389.7,676.6 L391.7,676.2 L393.7,674.0 L395.8,673.9 L397.8,673.4 L401.9,668.4 L405.0,675.0 L412.0,689.7 L422.2,692.7 L424.2,693.1 L426.3,691.5 L428.3,691.4 L430.4,690.8 L432.4,691.9 L434.4,691.3 L436.5,692.0 L438.5,690.7 L442.5,686.7 L444.5,687.5 L446.6,687.1 L448.6,685.2 L450.6,685.1 L452.7,683.8 L454.7,685.0 L456.7,684.7 L458.8,684.2 L460.8,684.1 L462.8,683.2 L464.9,683.7 L466.9,682.6 L468.9,682.4 L471.0,681.4 L473.0,680.3 L475.0,681.1 L477.1,679.8 L479.1,679.9 L481.1,678.0 L483.2,677.3 L485.2,676.5 L487.2,677.5 L489.3,677.1 L491.3,675.0 L493.3,675.7 L495.4,673.7 L497.4,673.8 L499.4,673.9 L501.5,673.1 L503.5,672.4 L505.5,672.1 L507.6,670.2 L509.6,671.9 L511.6,670.2 L513.6,669.1 L515.7,667.9 L517.7,668.4 L519.7,667.2 L521.8,668.1 L523.8,666.3 L525.8,665.6 L527.9,665.5 L529.9,666.1 L531.9,663.6 L534.0,663.6 L536.0,663.1 L538.0,662.1 L540.0,661.6 L542.1,663.0 L544.1,661.3 L546.1,660.9 L548.2,660.3 L550.2,658.1 L552.2,659.2 L554.2,657.7 L556.3,656.2 L558.3,657.0 L560.3,655.2 L562.4,654.3 L564.4,654.4 L566.4,652.2 L568.5,652.2 L570.5,652.5 L572.5,650.2 L574.5,649.9 L576.6,649.9 L578.6,648.7 L580.6,647.3 L582.7,645.9 L584.7,647.1 L586.7,644.2 L588.7,643.8 L590.8,644.6 L592.8,643.0 L603.0,632.0 L608.0,640.0 L613.2,647.0 L618.0,630.0 L623.3,613.5 L629.4,641.0 L634.5,689.7 L641.6,696.8 L649.7,697.8 L651.7,697.2 L653.8,696.2 L655.8,695.5 L657.9,696.0 L659.9,694.5 L661.9,694.5 L664.0,693.4 L666.0,693.8 L672.1,688.7 L680.3,690.4 L682.3,690.1 L684.4,689.1 L686.4,690.4 L688.4,689.0 L690.5,689.4 L692.5,688.5 L694.5,689.1 L696.6,689.5 L698.6,687.6 L700.6,688.9 L702.7,688.1 L704.7,688.2 L706.8,686.8 L708.8,687.3 L710.8,685.7 L712.9,687.0 L714.9,685.5 L716.9,687.0 L719.0,685.0 L721.0,685.3 L723.0,684.0 L725.1,683.5 L727.1,684.9 L729.1,685.1 L731.2,682.7 L733.2,682.6 L735.2,683.3 L737.2,682.9 L739.3,683.1 L741.3,681.3 L743.3,682.7 L745.4,681.1 L747.4,681.6 L749.4,679.8 L751.5,681.4 L753.5,681.3 L755.5,679.4 L757.6,679.2 L759.6,680.4 L761.6,678.7 L763.6,678.9 L765.7,678.7 L767.7,679.0 L769.7,677.5 L771.8,678.3 L773.8,677.2 L775.8,676.5 L777.9,676.0 L779.9,675.3 L781.9,676.3 L783.9,674.9 L786.0,675.5 L788.0,676.1 L790.0,674.2 L792.1,674.7 L794.1,675.1 L796.1,674.0 L798.2,674.1 L800.2,674.5 L802.2,673.6 L804.2,673.7 L806.3,673.6 L808.3,673.0 L810.3,671.9 L812.4,672.6 L814.4,673.4 L816.4,671.9 L818.4,671.3 L820.5,671.8 L822.5,670.5 L824.5,672.2 L826.6,670.7 L828.6,669.6 L830.6,671.6 L832.7,670.9 L834.7,671.0 L836.7,670.1 L838.7,669.9 L840.8,668.9 L842.8,669.1 L844.8,670.0 L846.9,669.6 L848.9,667.9 L850.9,667.5 L853.0,668.9 L855.0,667.4 L857.0,666.2 L859.1,666.5 L861.1,667.2 L863.1,665.9 L865.2,667.2 L867.2,665.6 L869.2,666.1 L871.3,666.2 L873.3,664.6 L875.3,664.9 L877.4,665.0 L879.4,666.0 L881.4,665.3 L883.5,664.1 L885.5,665.1 L887.5,664.5 L889.6,663.2 L891.6,664.1 L893.6,662.8 L895.7,662.2 L897.7,662.8 L899.7,662.0 L901.8,662.0 L903.8,662.0 L905.8,661.2 L907.9,661.5 L909.9,662.5 L911.9,662.1 L913.9,661.3 L916.0,660.4 L918.0,660.9 L920.0,660.0 L922.1,661.9 L924.1,661.6 L926.1,662.0 L928.2,661.2 L930.2,661.1 L932.2,660.3 L934.2,661.3 L936.3,659.3 L938.3,659.9 L940.3,661.2 L942.4,661.1 L944.4,660.6 L946.4,659.2 L948.5,659.3 L950.5,658.5 L952.5,658.7 L954.6,659.9 L956.6,659.0 L958.6,659.1 L960.6,660.2 L962.7,659.1 L964.7,658.9 L966.7,658.2 L968.8,659.1 L970.8,656.6 L972.8,656.9 L974.9,657.6 L976.9,657.1 L978.9,655.6 L981.0,654.5 L983.0,654.9 L989.1,663.0 L991.1,660.9 L993.2,658.6 L995.2,658.6 L997.2,656.1 L999.3,654.2 L1001.3,652.8 L1007.4,661.0 L1013.5,689.4 L1017.0,704.5" stroke="#BC7AD2" stroke-width="3.3" fill="none" stroke-linejoin="round" stroke-linecap="round"/><path d="M1028.0,718.0 L1031.0,722.0 L1035.8,723.0 L1040.0,722.8 L1042.0,722.3 L1044.1,722.9 L1046.1,722.1 L1048.1,722.8 L1050.2,722.4 L1052.2,723.1 L1054.2,722.3 L1056.2,722.8 L1058.3,722.1 L1060.3,722.4 L1062.3,722.3 L1064.4,722.7 L1066.4,722.9 L1068.4,722.8 L1070.5,721.3 L1072.5,722.7 L1074.5,722.5 L1076.5,721.3 L1078.6,721.9 L1080.6,721.8 L1082.6,722.2 L1084.7,722.0 L1086.7,721.5 L1088.7,722.1 L1090.8,721.8 L1092.8,721.7 L1094.8,720.9 L1096.9,720.9 L1098.9,721.8 L1100.9,721.0 L1102.9,721.3 L1105.0,720.5 L1107.0,721.3 L1109.0,721.6 L1111.1,721.1 L1113.1,720.9 L1115.1,720.9 L1117.1,721.0 L1119.1,720.9 L1121.1,721.2 L1123.1,720.3 L1125.1,720.8 L1127.1,720.8 L1129.1,719.9 L1131.1,719.8 L1133.1,719.6 L1135.1,720.4 L1137.1,720.1 L1139.1,719.8 L1141.1,720.0 L1143.1,719.1 L1145.1,720.1 L1147.1,718.6 L1149.1,719.6 L1151.1,718.4 L1153.1,719.2 L1155.1,718.6 L1157.1,718.8 L1159.1,718.9 L1161.1,718.0 L1163.1,719.3 L1165.1,717.7 L1167.1,718.9 L1169.1,717.5 L1171.1,717.5 L1173.1,717.7 L1175.1,717.4 L1177.1,718.5 L1179.1,717.2 L1181.1,717.3 L1183.1,717.5 L1185.1,716.7 L1187.1,718.2 L1189.1,717.0 L1191.1,717.2 L1193.2,717.2 L1195.3,716.3 L1197.4,717.2 L1199.5,717.0 L1201.6,716.3 L1203.7,716.5 L1205.8,717.3 L1207.8,716.6 L1209.9,716.7 L1212.0,715.7 L1214.1,716.9 L1216.2,715.7 L1218.3,716.6 L1220.4,715.8 L1227.7,720.9 L1235.5,743.0" stroke="#BC7AD2" stroke-width="2.8" fill="none" stroke-linejoin="round" stroke-linecap="round"/><path d="M1235.5,743.0 L1247.0,750.0 L1250.0,752.6 L1253.3,752.6 L1255.3,752.9 L1257.3,752.3 L1259.3,752.2 L1261.4,752.8 L1263.4,752.8 L1265.4,752.4 L1267.4,752.6 L1269.4,753.1 L1271.4,752.2 L1273.5,753.1 L1275.5,752.4 L1277.5,752.5 L1279.5,753.1 L1281.5,753.0 L1283.5,752.7 L1285.6,752.8 L1287.6,752.3 L1289.6,752.3 L1291.6,752.3 L1293.6,753.1 L1295.6,752.2 L1297.6,753.0 L1299.7,753.1 L1301.7,753.0 L1303.7,752.5 L1305.7,753.1 L1307.7,753.1 L1309.7,753.0 L1311.8,752.6 L1313.8,752.1 L1315.8,752.2 L1317.8,753.1 L1319.8,752.1 L1321.8,752.5 L1323.9,753.0 L1325.9,753.0 L1327.9,752.4 L1329.9,752.8 L1331.9,752.4 L1333.9,753.0 L1336.0,752.2 L1338.0,752.2 L1340.0,752.8 L1342.0,752.2 L1344.0,753.1 L1346.0,752.2 L1348.0,752.8 L1350.1,753.0 L1352.1,753.1 L1354.1,753.0 L1356.1,752.6 L1358.1,753.1 L1360.1,752.8 L1362.2,753.1 L1364.2,752.8 L1366.2,752.1 L1368.2,752.2 L1370.2,752.5 L1372.2,752.4 L1374.3,752.8 L1376.3,752.4 L1378.3,753.0 L1380.3,752.2 L1382.3,752.4 L1384.3,753.0 L1386.3,752.5 L1388.4,753.0 L1390.4,752.3 L1392.4,752.4 L1394.4,752.6 L1396.4,753.1 L1398.4,752.5 L1400.5,752.6 L1402.5,752.8 L1404.5,752.2 L1406.5,752.5 L1408.5,752.1 L1410.5,752.5 L1412.6,752.6 L1414.6,752.5 L1416.6,752.5 L1418.6,752.8 L1420.6,752.1 L1422.6,752.5 L1424.7,752.2 L1426.7,752.3 L1428.7,752.2 L1430.7,753.0 L1432.7,752.6 L1434.7,752.3 L1436.7,752.4 L1438.8,752.1 L1440.8,752.9 L1442.8,752.7 L1444.8,752.5 L1446.8,753.0 L1448.8,752.5 L1450.9,752.5 L1452.9,752.7 L1454.9,752.2 L1456.9,752.6 L1458.9,753.0 L1460.9,752.2 L1463.0,752.6 L1465.0,752.9 L1467.0,752.7 L1469.0,752.6 L1475.0,748.2 L1480.0,753.0 L1482.0,753.0 L1484.1,754.3 L1486.1,754.6 L1488.1,754.7 L1490.2,755.8 L1492.2,755.9 L1494.2,755.8 L1496.3,757.1 L1498.3,757.0" stroke="#BC7AD2" stroke-width="1.9" fill="none" stroke-linejoin="round" stroke-linecap="round"/><polygon points="1016.4,707.0 1018.9,412.1 1023.0,412.1 1025.1,600.0 1027.5,650.0 1028.1,699.0 1029.4,705.0 1029.4,721.0 1025.3,721.0 1023.1,699.0 1023.1,680.0 1021.4,680.0 1021.4,707.0" fill="#BC7AD2"/><polygon points="1236.7,747.0 1238.0,720.0 1238.2,632.0 1244.9,632.0 1246.1,700.0 1247.1,750.0 1243.0,750.0" fill="#BC7AD2"/></g>
<g><path d="M297.3,533.8 L299.4,532.0 L301.5,533.2 L303.5,531.9 L305.6,530.1 L307.7,530.9 L309.8,529.7 L311.9,529.6 L313.9,528.3 L316.0,527.8 L318.1,527.2 L320.2,525.4 L322.3,524.0 L324.4,525.4 L326.4,522.6 L328.5,523.0 L330.6,523.4 L332.7,521.0 L334.8,520.1 L336.8,519.7 L338.9,518.5 L341.0,518.5 L343.0,518.7 L345.1,517.1 L347.1,516.1 L349.1,517.1 L351.1,515.8 L353.2,515.2 L355.2,514.3 L357.2,516.1 L359.2,514.5 L361.3,514.6 L363.3,513.9 L365.3,514.5 L367.4,512.0 L369.4,513.1 L371.4,513.2 L373.4,511.3 L375.5,511.3 L377.5,510.6 L379.5,510.2 L381.5,511.4 L383.6,509.1 L385.6,509.4 L387.7,508.7 L389.7,505.5 L391.8,506.1 L393.8,502.9 L395.9,503.4 L397.9,500.2 L400.0,500.0 L409.0,491.0 L415.0,505.0 L422.2,523.6 L424.2,522.7 L426.3,522.8 L428.3,522.7 L430.3,523.9 L432.4,523.1 L434.4,521.8 L436.4,522.0 L438.5,522.5 L440.5,522.6 L442.5,522.6 L444.6,521.8 L446.6,520.9 L448.6,521.2 L450.7,521.0 L452.7,520.4 L454.7,519.9 L456.7,519.2 L458.8,518.8 L460.8,517.5 L462.8,516.9 L464.9,516.1 L466.9,515.0 L468.9,515.6 L471.0,513.9 L473.0,514.7 L475.0,512.9 L477.1,511.2 L479.1,512.8 L481.1,511.3 L483.2,509.5 L485.2,511.1 L487.2,510.4 L489.2,510.1 L491.3,508.5 L493.3,507.1 L495.3,506.7 L497.4,507.0 L499.4,506.3 L501.4,505.8 L503.5,504.5 L505.5,502.7 L507.5,501.5 L509.5,502.7 L511.6,501.8 L513.6,500.6 L515.6,498.6 L517.7,496.4 L519.7,495.8 L521.7,495.7 L523.8,495.6 L525.8,494.1 L527.8,491.6 L529.8,492.8 L531.9,491.1 L533.9,489.6 L535.9,489.5 L538.0,487.6 L540.0,486.9 L542.0,484.6 L544.1,483.8 L546.1,485.0 L548.1,482.7 L550.1,482.7 L552.2,480.6 L554.2,480.0 L556.2,479.1 L558.3,477.7 L560.3,479.2 L562.3,476.9 L564.4,477.6 L566.4,475.4 L568.4,475.1 L570.5,474.0 L572.5,474.9 L574.5,474.9 L576.6,473.5 L578.6,472.9 L580.7,471.3 L582.7,472.5 L584.7,469.7 L586.8,469.4 L588.8,469.6 L590.8,469.2 L592.9,467.6 L594.9,467.8 L596.9,465.9 L599.0,465.1 L601.0,465.7 L609.1,453.5 L615.0,465.0 L621.3,474.8 L626.0,460.0 L631.4,447.4 L637.0,480.0 L643.6,521.6 L651.8,526.7 L653.9,526.4 L656.0,526.7 L658.0,527.3 L660.1,526.1 L662.2,527.2 L664.3,526.7 L666.3,527.1 L668.4,526.3 L670.5,525.6 L672.5,524.9 L674.6,524.9 L676.6,524.5 L678.6,522.8 L680.7,522.0 L682.7,521.9 L684.7,521.9 L686.8,520.1 L688.8,520.4 L690.8,519.3 L692.9,520.8 L694.9,519.0 L696.9,518.8 L699.0,517.1 L701.0,517.5 L703.0,517.0 L705.0,518.0 L707.0,517.3 L709.0,517.2 L711.0,514.9 L713.0,516.4 L715.0,515.9 L717.0,514.5 L719.0,514.0 L721.0,515.2 L723.0,513.2 L725.0,512.8 L727.0,513.4 L729.0,512.7 L731.0,512.2 L733.0,511.8 L735.0,512.3 L737.0,511.9 L739.0,510.9 L741.0,511.8 L743.0,509.7 L745.0,510.0 L751.7,507.0 L753.7,506.1 L755.7,506.0 L757.7,504.6 L759.8,505.5 L761.8,505.1 L763.8,504.2 L765.8,504.3 L767.8,504.0 L769.8,503.9 L771.9,503.4 L773.9,502.5 L775.9,502.2 L777.9,503.2 L779.9,500.7 L781.9,502.5 L784.0,500.2 L786.0,499.9 L788.0,500.2 L790.0,500.0 L792.1,501.1 L794.2,499.0 L796.2,498.4 L798.3,500.1 L800.4,499.4 L802.5,499.2 L804.5,497.9 L806.6,499.6 L808.6,498.5 L810.6,498.4 L812.6,496.7 L814.7,497.7 L816.7,495.9 L818.7,496.1 L820.8,496.6 L822.8,497.4 L824.8,497.0 L826.9,494.7 L828.9,496.3 L830.9,496.0 L833.0,493.6 L835.0,493.2 L837.0,493.2 L839.0,495.0 L841.1,492.8 L843.1,493.1 L845.1,492.8 L847.2,492.7 L849.2,491.7 L851.2,491.1 L853.3,491.2 L855.3,491.5 L857.3,489.5 L859.4,488.7 L861.4,489.3 L863.5,490.2 L865.5,489.6 L867.5,487.1 L869.6,488.4 L871.6,488.5 L873.6,487.9 L875.7,485.4 L877.7,484.9 L879.7,485.7 L881.8,486.6 L883.8,485.0 L885.8,485.8 L887.9,483.9 L889.9,485.3 L891.9,484.7 L894.0,483.4 L896.0,482.5 L898.0,482.1 L900.1,482.3 L902.1,481.4 L904.1,482.2 L906.2,482.2 L908.2,482.8 L910.2,480.2 L912.2,480.0 L914.3,481.0 L916.3,479.6 L918.3,479.3 L920.4,480.1 L922.4,480.1 L924.4,480.0 L926.5,478.7 L928.5,477.8 L930.5,477.2 L932.6,478.9 L934.6,477.9 L936.6,478.6 L938.7,477.1 L940.7,478.6 L942.7,477.4 L944.8,478.6 L946.8,479.7 L948.8,480.2 L950.8,479.4 L952.9,480.2 L954.9,479.4 L956.9,480.8 L959.0,479.1 L961.0,478.7 L963.0,480.0 L965.1,481.5 L967.1,480.7 L969.1,481.0 L971.1,481.4 L973.2,481.4 L975.2,481.0 L977.2,481.3 L979.3,480.0 L981.3,479.6 L983.3,480.7 L985.4,478.8 L987.4,479.1 L989.4,478.1 L991.5,478.8 L993.5,478.0 L995.5,478.8 L997.5,477.0 L999.6,476.3 L1001.6,475.6 L1003.6,475.3 L1005.7,475.6 L1007.7,475.9 L1013.8,481.0 L1017.9,501.3 L1021.0,512.0 L1024.5,530.0" stroke="#00E6E6" stroke-width="5.4" fill="none" stroke-linejoin="round" stroke-linecap="round"/><path d="M1032.0,549.0 L1033.0,553.0 L1036.0,558.0 L1040.0,561.5 L1042.0,562.1 L1044.1,562.3 L1046.1,560.7 L1048.2,562.1 L1050.2,560.5 L1052.2,561.7 L1054.3,561.0 L1056.3,560.4 L1058.4,560.7 L1060.4,561.8 L1062.4,561.4 L1064.5,561.1 L1066.5,561.3 L1068.6,561.5 L1070.6,560.7 L1072.6,561.4 L1074.7,561.2 L1076.7,560.9 L1078.8,560.6 L1080.8,561.2 L1082.8,559.6 L1084.9,560.0 L1086.9,560.8 L1089.0,560.5 L1091.0,560.0 L1093.0,559.5 L1095.1,560.5 L1097.1,559.4 L1099.2,560.6 L1101.2,560.3 L1103.2,559.1 L1105.3,559.5 L1107.3,560.5 L1109.4,559.7 L1111.4,560.1 L1113.4,559.9 L1115.5,559.3 L1117.5,559.8 L1119.6,559.6 L1121.6,559.5 L1123.6,559.9 L1125.7,559.8 L1127.7,558.6 L1129.7,558.1 L1131.7,558.7 L1133.8,557.6 L1135.8,558.7 L1137.8,558.0 L1139.9,557.1 L1141.9,557.7 L1143.9,556.7 L1145.9,557.2 L1148.0,556.6 L1150.0,556.9 L1152.0,557.2 L1154.0,557.3 L1156.1,556.1 L1158.1,555.6 L1160.1,555.8 L1162.2,556.1 L1164.2,556.2 L1166.2,555.6 L1168.2,555.6 L1170.3,554.6 L1172.3,553.8 L1174.3,554.7 L1176.4,554.0 L1178.4,553.4 L1180.4,553.4 L1182.4,553.4 L1184.5,552.8 L1186.5,553.1 L1188.5,553.3 L1190.6,552.6 L1192.6,552.4 L1194.6,552.5 L1196.6,552.2 L1198.7,551.4 L1200.7,552.1 L1202.7,550.9 L1204.7,552.2 L1206.8,551.8 L1208.8,550.4 L1210.8,551.2 L1212.9,550.7 L1214.9,550.7 L1216.9,550.3 L1218.9,550.7 L1221.0,549.9 L1223.0,549.8 L1228.2,548.6 L1235.0,570.0 L1240.5,585.4 L1242.8,587.4 L1245.0,588.9 L1247.2,589.0 L1249.5,590.3" stroke="#00E6E6" stroke-width="4.4" fill="none" stroke-linejoin="round" stroke-linecap="round"/><path d="M1249.5,590.3 L1251.8,592.1 L1254.0,594.0 L1257.0,598.5 L1261.2,600.6 L1263.2,600.2 L1265.2,600.9 L1267.3,600.7 L1269.3,600.2 L1271.3,600.6 L1273.3,600.6 L1275.3,601.0 L1277.3,600.9 L1279.4,600.3 L1281.4,600.4 L1283.4,600.1 L1285.4,601.0 L1287.4,600.5 L1289.4,600.7 L1291.5,600.1 L1293.5,600.5 L1295.5,600.7 L1297.5,601.0 L1299.5,600.2 L1301.5,600.8 L1303.6,600.7 L1305.6,600.0 L1307.6,600.4 L1309.6,600.5 L1311.6,601.1 L1313.6,601.1 L1315.7,601.0 L1317.7,600.7 L1319.7,601.0 L1321.7,601.2 L1323.7,600.7 L1325.7,600.9 L1327.8,600.0 L1329.8,600.1 L1331.8,600.4 L1333.8,600.9 L1335.8,600.2 L1337.8,601.2 L1339.9,601.0 L1341.9,600.1 L1343.9,600.1 L1345.9,600.1 L1347.9,601.1 L1349.9,600.8 L1352.0,600.3 L1354.0,600.4 L1356.0,600.1 L1358.0,600.4 L1360.0,600.9 L1362.0,600.9 L1364.1,600.3 L1366.1,601.1 L1368.1,601.1 L1370.1,600.2 L1372.1,600.7 L1374.1,600.4 L1376.2,601.0 L1378.2,600.4 L1380.2,600.9 L1382.2,600.6 L1384.2,600.9 L1386.2,600.9 L1388.3,600.8 L1390.3,601.2 L1392.3,600.7 L1394.3,600.7 L1396.3,601.1 L1398.3,600.6 L1400.4,600.2 L1402.4,600.3 L1404.4,600.7 L1406.4,600.2 L1408.4,600.9 L1410.4,600.7 L1412.5,600.0 L1414.5,601.0 L1416.5,601.2 L1418.5,600.1 L1420.5,601.1 L1422.5,600.8 L1424.6,601.0 L1426.6,600.8 L1428.6,600.9 L1430.6,601.0 L1432.6,600.9 L1434.6,600.4 L1436.7,600.9 L1438.7,600.3 L1440.7,601.1 L1442.7,600.1 L1444.7,600.1 L1446.7,600.2 L1448.8,600.3 L1450.8,600.5 L1452.8,600.7 L1454.8,600.1 L1456.8,600.6 L1458.8,600.7 L1460.9,601.1 L1462.9,600.6 L1464.9,601.0 L1466.9,600.4 L1468.9,600.2 L1470.9,600.3 L1473.0,600.2 L1475.0,601.1 L1477.0,600.6 L1481.0,595.5 L1486.0,601.0 L1488.0,602.1 L1490.1,602.2 L1492.1,602.2 L1494.1,604.0 L1496.2,604.5 L1498.2,605.0 L1500.2,605.2 L1502.2,606.2 L1504.3,605.8 L1506.3,607.0" stroke="#00E6E6" stroke-width="3.0" fill="none" stroke-linejoin="round" stroke-linecap="round"/><polygon points="1022.0,533.0 1023.0,400.0 1025.4,256.2 1032.2,256.2 1034.8,330.0 1035.0,555.0 1030.2,555.0 1030.2,480.0 1028.6,480.0 1028.4,533.0" fill="#00E6E6"/><polygon points="1241.9,585.0 1243.6,560.0 1243.9,500.0 1248.3,440.1 1252.4,440.1 1254.5,500.0 1254.5,590.0 1251.6,592.0" fill="#00E6E6"/></g>
<polygon points="1020.5,414.0 1023.0,414.0 1023.5,532.0 1019.0,532.0 1018.0,508.0" fill="#8C86D8"/>
<polygon points="1023.0,414.0 1025.5,414.0 1026.5,532.0 1023.5,532.0" fill="#4AA6E6"/>
<polygon points="1248.0,556.5 1254.8,556.5 1254.8,583.0 1248.0,583.0" fill="#2ECF8C"/>
<polygon points="1248.0,583.0 1253.0,583.0 1253.0,597.5 1248.0,597.5" fill="#B4B464"/>
</g>
<g id="frame">
<rect x="165.3" y="34.1" width="1394.1" height="1808.1" fill="none" stroke="#000" stroke-width="9.2"/>
<line x1="233.1" y1="1845" x2="233.1" y2="1861.9" stroke="#000" stroke-width="4.4"/>
<line x1="323.4" y1="1845" x2="323.4" y2="1853.3" stroke="#000" stroke-width="4.4"/>
<line x1="413.3" y1="1845" x2="413.3" y2="1861.9" stroke="#000" stroke-width="4.4"/>
<line x1="503.2" y1="1845" x2="503.2" y2="1853.3" stroke="#000" stroke-width="4.4"/>
<line x1="593.9" y1="1845" x2="593.9" y2="1861.9" stroke="#000" stroke-width="4.4"/>
<line x1="685.6" y1="1845" x2="685.6" y2="1853.3" stroke="#000" stroke-width="4.4"/>
<line x1="776.6" y1="1845" x2="776.6" y2="1861.9" stroke="#000" stroke-width="4.4"/>
<line x1="866.2" y1="1845" x2="866.2" y2="1853.3" stroke="#000" stroke-width="4.4"/>
<line x1="957.4" y1="1845" x2="957.4" y2="1861.9" stroke="#000" stroke-width="4.4"/>
<line x1="1047.3" y1="1845" x2="1047.3" y2="1853.3" stroke="#000" stroke-width="4.4"/>
<line x1="1138" y1="1845" x2="1138" y2="1861.9" stroke="#000" stroke-width="4.4"/>
<line x1="1227.5" y1="1845" x2="1227.5" y2="1853.3" stroke="#000" stroke-width="4.4"/>
<line x1="1318.5" y1="1845" x2="1318.5" y2="1861.9" stroke="#000" stroke-width="4.4"/>
<line x1="1410" y1="1845" x2="1410" y2="1853.3" stroke="#000" stroke-width="4.4"/>
<line x1="1500.5" y1="1845" x2="1500.5" y2="1861.9" stroke="#000" stroke-width="4.4"/>
</g>
<g id="labels">
<text x="149.05" y="1957.07" font-size="74.39" textLength="151.23" lengthAdjust="spacingAndGlyphs">1400</text>
<text x="328.63" y="1958.87" font-size="74.69" textLength="149.52" lengthAdjust="spacingAndGlyphs">1200</text>
<text x="512.83" y="1954.88" font-size="73.35" textLength="149.52" lengthAdjust="spacingAndGlyphs">1000</text>
<text x="714.64" y="1954.89" font-size="73.06" textLength="112.72" lengthAdjust="spacingAndGlyphs">800</text>
<text x="893.19" y="1954.89" font-size="73.06" textLength="115.44" lengthAdjust="spacingAndGlyphs">600</text>
<text x="1071.89" y="1954.89" font-size="73.06" textLength="115.85" lengthAdjust="spacingAndGlyphs">400</text>
<text x="1251.29" y="1954.89" font-size="73.06" textLength="116.47" lengthAdjust="spacingAndGlyphs">200</text>
<text x="1472.16" y="1954.89" font-size="73.06" textLength="41.17" lengthAdjust="spacingAndGlyphs">0</text>
<text x="566.32" y="2088.50" font-size="78.19" textLength="608.90" lengthAdjust="spacingAndGlyphs">Binding energy (ev)</text>
<text transform="translate(87.30,1227.15) rotate(-90)" font-size="76.51" textLength="445.49" lengthAdjust="spacingAndGlyphs">Intensity (a.u.)</text>
<text x="1573.14" y="620.00" font-size="77.58" textLength="631.90" lengthAdjust="spacingAndGlyphs">NT-ICA-ASP/PLGA</text>
<text x="1570.76" y="781.10" font-size="74.83" textLength="474.78" lengthAdjust="spacingAndGlyphs">NT-ASP/PLGA</text>
<text x="1573.16" y="973.80" font-size="76.51" textLength="470.79" lengthAdjust="spacingAndGlyphs">NT-ICA-PLGA</text>
<text x="1573.56" y="1168.60" font-size="75.60" textLength="283.58" lengthAdjust="spacingAndGlyphs">Ti-PLGA</text>
<text x="1573.59" y="1465.30" font-size="75.75" textLength="248.15" lengthAdjust="spacingAndGlyphs">NT-ICA</text>
<text x="1573.09" y="1618.00" font-size="75.14" textLength="102.08" lengthAdjust="spacingAndGlyphs">NT</text>
<text x="1575.49" y="1784.30" font-size="75.75" textLength="64.28" lengthAdjust="spacingAndGlyphs">Ti</text>
<text transform="translate(427.70,458.71) rotate(-90)" font-size="75.75" textLength="241.55" lengthAdjust="spacingAndGlyphs">-C KLL</text>
<text transform="translate(513.60,430.67) rotate(-90)" font-size="76.67" textLength="288.56" lengthAdjust="spacingAndGlyphs">-Ti LMM</text>
<text transform="translate(588.20,423.18) rotate(-90)" font-size="75.75" textLength="289.48" lengthAdjust="spacingAndGlyphs">-Ti LMM</text>
<text transform="translate(655.40,416.71) rotate(-90)" font-size="75.75" textLength="246.27" lengthAdjust="spacingAndGlyphs">-O KLL</text>
<text transform="translate(1002.40,463.33) rotate(-90)" font-size="74.83" textLength="161.09" lengthAdjust="spacingAndGlyphs">-Ti2s</text>
<text transform="translate(1044.60,245.28) rotate(-90)" font-size="74.38" textLength="164.49" lengthAdjust="spacingAndGlyphs">-O 1s</text>
<text transform="translate(1099.40,415.54) rotate(-90)" font-size="76.36" textLength="372.24" lengthAdjust="spacingAndGlyphs">-Ti2p3-Ti2p1</text>
<text transform="translate(1144.00,533.42) rotate(-90)" font-size="76.06" textLength="147.56" lengthAdjust="spacingAndGlyphs">-N1s</text>
<text transform="translate(1273.00,425.80) rotate(-90)" font-size="76.21" textLength="142.32" lengthAdjust="spacingAndGlyphs">-C1s</text>
<text transform="translate(1410.70,554.47) rotate(-90)" font-size="76.21" textLength="157.67" lengthAdjust="spacingAndGlyphs">-Ti3s</text>
<text transform="translate(1466.90,449.34) rotate(-90)" font-size="76.21" textLength="164.23" lengthAdjust="spacingAndGlyphs">-Ti3p</text>
<text transform="translate(1512.20,559.76) rotate(-90)" font-size="76.67" textLength="144.86" lengthAdjust="spacingAndGlyphs">-O2s</text>
</g>
</svg>
</body></html>
